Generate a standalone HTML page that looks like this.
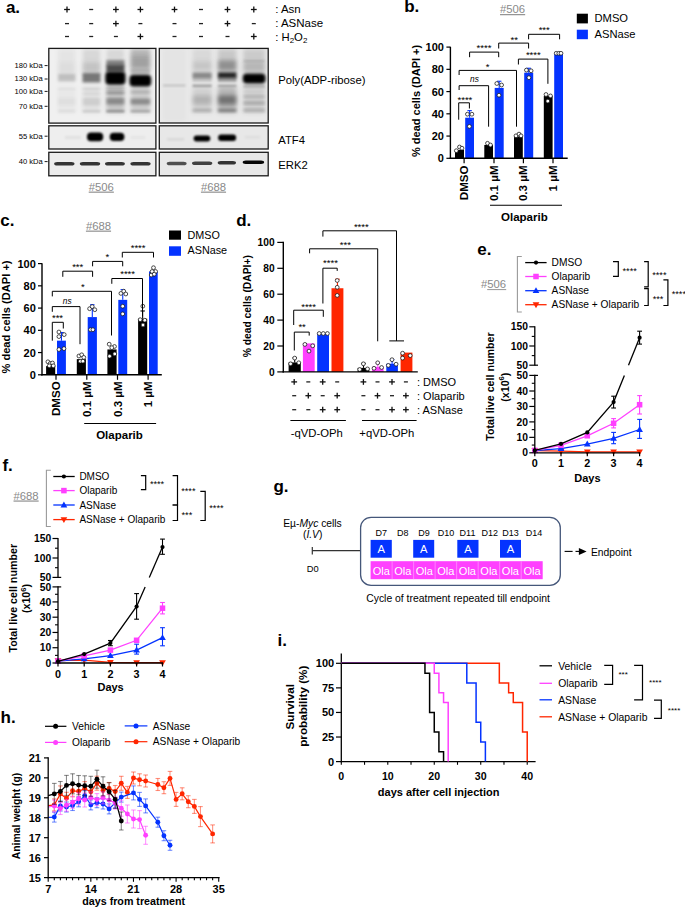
<!DOCTYPE html>
<html><head><meta charset="utf-8"><style>
html,body{margin:0;padding:0;background:#fff;width:685px;height:909px;overflow:hidden}
svg{display:block}
text{font-family:"Liberation Sans",sans-serif}
</style></head><body>
<svg width="685" height="909" viewBox="0 0 685 909">
<rect width="685" height="909" fill="#fff"/>
<text x="5.90" y="12.80" text-anchor="start" fill="#000" style="font-size:17px;font-weight:bold;">a.</text>
<line x1="64.10" y1="9.50" x2="69.90" y2="9.50" stroke="#111" stroke-width="1.3" />
<line x1="67.00" y1="6.60" x2="67.00" y2="12.40" stroke="#111" stroke-width="1.3" />
<line x1="89.20" y1="9.50" x2="93.20" y2="9.50" stroke="#222" stroke-width="1.3" />
<line x1="113.00" y1="9.50" x2="118.80" y2="9.50" stroke="#111" stroke-width="1.3" />
<line x1="115.90" y1="6.60" x2="115.90" y2="12.40" stroke="#111" stroke-width="1.3" />
<line x1="137.50" y1="9.50" x2="143.30" y2="9.50" stroke="#111" stroke-width="1.3" />
<line x1="140.40" y1="6.60" x2="140.40" y2="12.40" stroke="#111" stroke-width="1.3" />
<line x1="171.60" y1="9.50" x2="177.40" y2="9.50" stroke="#111" stroke-width="1.3" />
<line x1="174.50" y1="6.60" x2="174.50" y2="12.40" stroke="#111" stroke-width="1.3" />
<line x1="199.00" y1="9.50" x2="203.00" y2="9.50" stroke="#222" stroke-width="1.3" />
<line x1="224.60" y1="9.50" x2="230.40" y2="9.50" stroke="#111" stroke-width="1.3" />
<line x1="227.50" y1="6.60" x2="227.50" y2="12.40" stroke="#111" stroke-width="1.3" />
<line x1="250.90" y1="9.50" x2="256.70" y2="9.50" stroke="#111" stroke-width="1.3" />
<line x1="253.80" y1="6.60" x2="253.80" y2="12.40" stroke="#111" stroke-width="1.3" />
<line x1="65.00" y1="23.60" x2="69.00" y2="23.60" stroke="#222" stroke-width="1.3" />
<line x1="89.20" y1="23.60" x2="93.20" y2="23.60" stroke="#222" stroke-width="1.3" />
<line x1="113.00" y1="23.60" x2="118.80" y2="23.60" stroke="#111" stroke-width="1.3" />
<line x1="115.90" y1="20.70" x2="115.90" y2="26.50" stroke="#111" stroke-width="1.3" />
<line x1="138.40" y1="23.60" x2="142.40" y2="23.60" stroke="#222" stroke-width="1.3" />
<line x1="172.50" y1="23.60" x2="176.50" y2="23.60" stroke="#222" stroke-width="1.3" />
<line x1="199.00" y1="23.60" x2="203.00" y2="23.60" stroke="#222" stroke-width="1.3" />
<line x1="224.60" y1="23.60" x2="230.40" y2="23.60" stroke="#111" stroke-width="1.3" />
<line x1="227.50" y1="20.70" x2="227.50" y2="26.50" stroke="#111" stroke-width="1.3" />
<line x1="251.80" y1="23.60" x2="255.80" y2="23.60" stroke="#222" stroke-width="1.3" />
<line x1="65.00" y1="36.50" x2="69.00" y2="36.50" stroke="#222" stroke-width="1.3" />
<line x1="89.20" y1="36.50" x2="93.20" y2="36.50" stroke="#222" stroke-width="1.3" />
<line x1="113.90" y1="36.50" x2="117.90" y2="36.50" stroke="#222" stroke-width="1.3" />
<line x1="137.50" y1="36.50" x2="143.30" y2="36.50" stroke="#111" stroke-width="1.3" />
<line x1="140.40" y1="33.60" x2="140.40" y2="39.40" stroke="#111" stroke-width="1.3" />
<line x1="172.50" y1="36.50" x2="176.50" y2="36.50" stroke="#222" stroke-width="1.3" />
<line x1="199.00" y1="36.50" x2="203.00" y2="36.50" stroke="#222" stroke-width="1.3" />
<line x1="225.50" y1="36.50" x2="229.50" y2="36.50" stroke="#222" stroke-width="1.3" />
<line x1="250.90" y1="36.50" x2="256.70" y2="36.50" stroke="#111" stroke-width="1.3" />
<line x1="253.80" y1="33.60" x2="253.80" y2="39.40" stroke="#111" stroke-width="1.3" />
<text x="275.20" y="13.20" text-anchor="start" fill="#000" style="font-size:11.5px;font-weight:normal;">: Asn</text>
<text x="275.20" y="27.40" text-anchor="start" fill="#000" style="font-size:11.5px;font-weight:normal;">: ASNase</text>
<text x="275.20" y="40.60" text-anchor="start" fill="#000" style="font-size:11.3px;font-weight:normal;">: H<tspan font-size="8" dy="2.5">2</tspan><tspan dy="-2.5">O</tspan><tspan font-size="8" dy="2.5">2</tspan></text>
<rect x="48.80" y="48.40" width="107.10" height="74.70" fill="#f0f0f0" stroke="#1a1a1a" stroke-width="1.3"/>
<rect x="159.30" y="48.40" width="108.90" height="74.60" fill="#e9e9e9" stroke="#1a1a1a" stroke-width="1.3"/>
<rect x="48.80" y="125.80" width="107.10" height="23.20" fill="#eeeeee" stroke="#1a1a1a" stroke-width="1.3"/>
<rect x="159.30" y="125.80" width="108.90" height="23.20" fill="#e8e8e8" stroke="#1a1a1a" stroke-width="1.3"/>
<rect x="48.80" y="152.30" width="107.10" height="23.50" fill="#ececec" stroke="#1a1a1a" stroke-width="1.3"/>
<rect x="159.30" y="152.30" width="108.90" height="23.50" fill="#e8e8e8" stroke="#1a1a1a" stroke-width="1.3"/>
<text x="42.80" y="68.00" text-anchor="end" fill="#000" style="font-size:7.6px;font-weight:normal;">180 kDa</text>
<line x1="44.60" y1="65.60" x2="47.60" y2="65.60" stroke="#000" stroke-width="0.9" />
<text x="42.80" y="81.40" text-anchor="end" fill="#000" style="font-size:7.6px;font-weight:normal;">130 kDa</text>
<line x1="44.60" y1="79.00" x2="47.60" y2="79.00" stroke="#000" stroke-width="0.9" />
<text x="42.80" y="93.80" text-anchor="end" fill="#000" style="font-size:7.6px;font-weight:normal;">100 kDa</text>
<line x1="44.60" y1="91.40" x2="47.60" y2="91.40" stroke="#000" stroke-width="0.9" />
<text x="42.80" y="108.70" text-anchor="end" fill="#000" style="font-size:7.6px;font-weight:normal;">70 kDa</text>
<line x1="44.60" y1="106.30" x2="47.60" y2="106.30" stroke="#000" stroke-width="0.9" />
<text x="42.80" y="138.60" text-anchor="end" fill="#000" style="font-size:7.6px;font-weight:normal;">55 kDa</text>
<line x1="44.60" y1="136.20" x2="47.60" y2="136.20" stroke="#000" stroke-width="0.9" />
<text x="42.80" y="164.00" text-anchor="end" fill="#000" style="font-size:7.6px;font-weight:normal;">40 kDa</text>
<line x1="44.60" y1="161.60" x2="47.60" y2="161.60" stroke="#000" stroke-width="0.9" />
<text x="278.20" y="83.60" text-anchor="start" fill="#000" style="font-size:11.3px;font-weight:normal;">Poly(ADP-ribose)</text>
<text x="278.20" y="144.40" text-anchor="start" fill="#000" style="font-size:11.3px;font-weight:normal;">ATF4</text>
<text x="278.20" y="168.60" text-anchor="start" fill="#000" style="font-size:11.3px;font-weight:normal;">ERK2</text>
<text x="101.30" y="190.60" text-anchor="middle" fill="#8a8a8a" style="font-size:11.3px;font-weight:normal;text-decoration:underline;">#506</text>
<text x="213.50" y="190.60" text-anchor="middle" fill="#8a8a8a" style="font-size:11.3px;font-weight:normal;text-decoration:underline;">#688</text>
<defs><filter id="b06" x="-50%" y="-50%" width="200%" height="200%"><feGaussianBlur stdDeviation="0.6"/></filter><filter id="b1" x="-50%" y="-50%" width="200%" height="200%"><feGaussianBlur stdDeviation="1.0"/></filter><filter id="b15" x="-50%" y="-50%" width="200%" height="200%"><feGaussianBlur stdDeviation="1.5"/></filter><filter id="b2" x="-50%" y="-50%" width="200%" height="200%"><feGaussianBlur stdDeviation="2.2"/></filter><clipPath id="cp1"><rect x="49.5" y="49.1" width="105.7" height="73.3"/></clipPath><clipPath id="cp2"><rect x="160" y="49.1" width="107.5" height="73.2"/></clipPath><clipPath id="cp3"><rect x="49.5" y="126.5" width="105.7" height="21.8"/></clipPath><clipPath id="cp4"><rect x="160" y="126.5" width="107.5" height="21.8"/></clipPath><clipPath id="cp5"><rect x="49.5" y="153" width="105.7" height="22.1"/></clipPath><clipPath id="cp6"><rect x="160" y="153" width="107.5" height="22.1"/></clipPath></defs>
<g clip-path="url(#cp1)">
<rect x="58.00" y="49.00" width="17.50" height="13.00" rx="0" fill="#000" fill-opacity="0.05" filter="url(#b2)"/>
<rect x="58.00" y="62.00" width="17.50" height="12.00" rx="0" fill="#000" fill-opacity="0.08" filter="url(#b2)"/>
<rect x="58.00" y="74.00" width="17.50" height="7.50" rx="0" fill="#000" fill-opacity="0.2" filter="url(#b15)"/>
<rect x="58.00" y="86.00" width="17.50" height="27.00" rx="0" fill="#000" fill-opacity="0.035" filter="url(#b2)"/>
<rect x="58.00" y="88.00" width="17.50" height="2.00" rx="0" fill="#000" fill-opacity="0.04" filter="url(#b1)"/>
<rect x="58.00" y="98.00" width="17.50" height="7.00" rx="0" fill="#000" fill-opacity="0.04" filter="url(#b15)"/>
<rect x="58.00" y="110.00" width="17.50" height="2.50" rx="0" fill="#000" fill-opacity="0.06" filter="url(#b1)"/>
<rect x="82.50" y="49.00" width="18.00" height="13.00" rx="0" fill="#000" fill-opacity="0.1" filter="url(#b2)"/>
<rect x="82.50" y="62.00" width="18.00" height="11.00" rx="0" fill="#000" fill-opacity="0.19" filter="url(#b2)"/>
<rect x="82.50" y="73.00" width="18.00" height="9.50" rx="0" fill="#000" fill-opacity="0.5" filter="url(#b15)"/>
<rect x="82.50" y="86.00" width="18.00" height="27.00" rx="0" fill="#000" fill-opacity="0.06" filter="url(#b2)"/>
<rect x="82.50" y="87.80" width="18.00" height="2.20" rx="0" fill="#000" fill-opacity="0.08" filter="url(#b1)"/>
<rect x="82.50" y="92.50" width="18.00" height="2.30" rx="0" fill="#000" fill-opacity="0.06" filter="url(#b1)"/>
<rect x="82.50" y="98.00" width="18.00" height="7.50" rx="0" fill="#000" fill-opacity="0.09" filter="url(#b15)"/>
<rect x="82.50" y="110.00" width="18.00" height="2.50" rx="0" fill="#000" fill-opacity="0.12" filter="url(#b1)"/>
<rect x="106.30" y="49.00" width="18.20" height="11.00" rx="0" fill="#000" fill-opacity="0.1" filter="url(#b2)"/>
<rect x="106.30" y="60.00" width="18.20" height="6.00" rx="0" fill="#000" fill-opacity="0.45" filter="url(#b15)"/>
<rect x="106.30" y="65.00" width="18.20" height="7.00" rx="0" fill="#000" fill-opacity="0.68" filter="url(#b15)"/>
<rect x="105.30" y="71.50" width="20.20" height="13.30" rx="4" fill="#000" fill-opacity="1.0" filter="url(#b15)"/>
<rect x="106.30" y="86.00" width="18.20" height="27.00" rx="0" fill="#000" fill-opacity="0.18" filter="url(#b2)"/>
<rect x="106.30" y="87.00" width="18.20" height="2.50" rx="0" fill="#000" fill-opacity="0.2" filter="url(#b15)"/>
<rect x="106.30" y="91.50" width="18.20" height="2.50" rx="0" fill="#000" fill-opacity="0.32" filter="url(#b15)"/>
<rect x="106.30" y="98.00" width="18.20" height="6.50" rx="0" fill="#000" fill-opacity="0.3" filter="url(#b15)"/>
<rect x="106.30" y="110.00" width="18.20" height="2.50" rx="0" fill="#000" fill-opacity="0.3" filter="url(#b1)"/>
<rect x="130.50" y="49.00" width="19.80" height="6.00" rx="0" fill="#000" fill-opacity="0.25" filter="url(#b2)"/>
<rect x="130.50" y="55.00" width="19.80" height="14.00" rx="0" fill="#000" fill-opacity="0.33" filter="url(#b2)"/>
<rect x="130.50" y="69.00" width="19.80" height="5.00" rx="0" fill="#000" fill-opacity="0.24" filter="url(#b15)"/>
<rect x="129.50" y="74.80" width="21.70" height="11.80" rx="4" fill="#000" fill-opacity="1.0" filter="url(#b15)"/>
<rect x="130.50" y="87.00" width="19.80" height="26.00" rx="0" fill="#000" fill-opacity="0.15" filter="url(#b2)"/>
<rect x="130.50" y="90.80" width="19.80" height="2.40" rx="0" fill="#000" fill-opacity="0.18" filter="url(#b15)"/>
<rect x="130.50" y="98.70" width="19.80" height="5.80" rx="0" fill="#000" fill-opacity="0.32" filter="url(#b15)"/>
<rect x="130.50" y="110.00" width="19.80" height="2.50" rx="0" fill="#000" fill-opacity="0.22" filter="url(#b1)"/>
</g>
<g clip-path="url(#cp2)">
<rect x="163.00" y="49.00" width="22.50" height="72.00" rx="0" fill="#000" fill-opacity="0.025" filter="url(#b2)"/>
<rect x="163.00" y="84.30" width="22.50" height="2.40" rx="0" fill="#000" fill-opacity="0.13" filter="url(#b1)"/>
<rect x="192.50" y="49.00" width="19.20" height="12.00" rx="0" fill="#000" fill-opacity="0.07" filter="url(#b2)"/>
<rect x="192.50" y="61.00" width="19.20" height="10.00" rx="0" fill="#000" fill-opacity="0.15" filter="url(#b2)"/>
<rect x="192.50" y="72.50" width="19.20" height="5.50" rx="0" fill="#000" fill-opacity="0.42" filter="url(#b15)"/>
<rect x="192.50" y="77.00" width="19.20" height="5.00" rx="0" fill="#000" fill-opacity="0.15" filter="url(#b1)"/>
<rect x="192.50" y="84.50" width="19.20" height="2.50" rx="0" fill="#000" fill-opacity="0.3" filter="url(#b1)"/>
<rect x="192.50" y="87.00" width="19.20" height="26.00" rx="0" fill="#000" fill-opacity="0.1" filter="url(#b2)"/>
<rect x="192.50" y="95.50" width="19.20" height="8.80" rx="0" fill="#000" fill-opacity="0.15" filter="url(#b2)"/>
<rect x="192.50" y="109.00" width="19.20" height="3.00" rx="0" fill="#000" fill-opacity="0.2" filter="url(#b15)"/>
<rect x="217.90" y="49.00" width="18.60" height="11.00" rx="0" fill="#000" fill-opacity="0.14" filter="url(#b2)"/>
<rect x="217.90" y="60.00" width="18.60" height="11.00" rx="0" fill="#000" fill-opacity="0.38" filter="url(#b2)"/>
<rect x="217.90" y="72.30" width="18.60" height="5.70" rx="0" fill="#000" fill-opacity="0.85" filter="url(#b15)"/>
<rect x="217.90" y="77.00" width="18.60" height="5.00" rx="0" fill="#000" fill-opacity="0.3" filter="url(#b1)"/>
<rect x="217.90" y="84.50" width="18.60" height="2.50" rx="0" fill="#000" fill-opacity="0.25" filter="url(#b1)"/>
<rect x="217.90" y="87.00" width="18.60" height="26.00" rx="0" fill="#000" fill-opacity="0.22" filter="url(#b2)"/>
<rect x="217.90" y="95.50" width="18.60" height="8.80" rx="0" fill="#000" fill-opacity="0.38" filter="url(#b2)"/>
<rect x="217.90" y="109.00" width="18.60" height="3.00" rx="0" fill="#000" fill-opacity="0.35" filter="url(#b15)"/>
<rect x="243.30" y="49.00" width="21.70" height="13.00" rx="0" fill="#000" fill-opacity="0.13" filter="url(#b2)"/>
<rect x="243.30" y="59.90" width="21.70" height="2.10" rx="0" fill="#000" fill-opacity="0.12" filter="url(#b1)"/>
<rect x="243.30" y="62.00" width="21.70" height="10.00" rx="0" fill="#000" fill-opacity="0.22" filter="url(#b2)"/>
<rect x="242.80" y="73.40" width="22.70" height="10.20" rx="4" fill="#000" fill-opacity="1.0" filter="url(#b15)"/>
<rect x="243.30" y="85.00" width="21.70" height="2.50" rx="0" fill="#000" fill-opacity="0.22" filter="url(#b1)"/>
<rect x="243.30" y="87.00" width="21.70" height="26.00" rx="0" fill="#000" fill-opacity="0.12" filter="url(#b2)"/>
<rect x="243.30" y="95.50" width="21.70" height="2.50" rx="0" fill="#000" fill-opacity="0.15" filter="url(#b15)"/>
<rect x="243.30" y="101.50" width="21.70" height="3.00" rx="0" fill="#000" fill-opacity="0.2" filter="url(#b15)"/>
<rect x="243.30" y="109.00" width="21.70" height="3.00" rx="0" fill="#000" fill-opacity="0.18" filter="url(#b15)"/>
</g>
<g clip-path="url(#cp3)">
<rect x="64.90" y="136.00" width="16.00" height="3.00" rx="0" fill="#000" fill-opacity="0.06" filter="url(#b1)"/>
<rect x="130.70" y="136.00" width="14.50" height="3.00" rx="0" fill="#000" fill-opacity="0.04" filter="url(#b1)"/>
<rect x="87.00" y="132.60" width="16.20" height="8.60" rx="4" fill="#000" fill-opacity="1.0" filter="url(#b1)"/>
<rect x="109.70" y="132.80" width="14.70" height="8.20" rx="4" fill="#000" fill-opacity="1.0" filter="url(#b1)"/>
</g>
<g clip-path="url(#cp4)">
<rect x="167.00" y="138.00" width="17.20" height="2.50" rx="0" fill="#000" fill-opacity="0.07" filter="url(#b1)"/>
<rect x="244.70" y="136.00" width="15.50" height="2.50" rx="0" fill="#000" fill-opacity="0.05" filter="url(#b1)"/>
<rect x="193.60" y="135.40" width="16.70" height="6.00" rx="3" fill="#000" fill-opacity="1.0" filter="url(#b1)"/>
<rect x="218.10" y="134.40" width="18.00" height="6.50" rx="3" fill="#000" fill-opacity="1.0" filter="url(#b1)"/>
</g>
<g clip-path="url(#cp5)">
<rect x="54.10" y="162.06" width="20.40" height="3.47" rx="3" ry="1.74" fill="#000" fill-opacity="0.78" filter="url(#b06)"/>
<rect x="79.80" y="162.06" width="20.40" height="3.47" rx="3" ry="1.74" fill="#000" fill-opacity="0.78" filter="url(#b06)"/>
<rect x="105.00" y="162.06" width="19.90" height="3.47" rx="3" ry="1.74" fill="#000" fill-opacity="0.78" filter="url(#b06)"/>
<rect x="130.40" y="162.06" width="20.20" height="3.47" rx="3" ry="1.74" fill="#000" fill-opacity="0.78" filter="url(#b06)"/>
</g>
<g clip-path="url(#cp6)">
<rect x="166.70" y="161.86" width="19.90" height="3.47" rx="3" ry="1.74" fill="#000" fill-opacity="0.66" filter="url(#b06)"/>
<rect x="192.00" y="161.46" width="20.30" height="3.47" rx="3" ry="1.74" fill="#000" fill-opacity="0.72" filter="url(#b06)"/>
<rect x="217.70" y="161.06" width="18.30" height="3.47" rx="3" ry="1.74" fill="#000" fill-opacity="0.78" filter="url(#b06)"/>
<rect x="242.70" y="160.54" width="21.40" height="3.41" rx="3" ry="1.71" fill="#000" fill-opacity="0.97" filter="url(#b06)"/>
</g>
<text x="404.20" y="12.00" text-anchor="start" fill="#000" style="font-size:17px;font-weight:bold;">b.</text>
<text x="512.60" y="13.10" text-anchor="middle" fill="#8a8a8a" style="font-size:11.3px;font-weight:normal;text-decoration:underline;">#506</text>
<rect x="576.80" y="13.70" width="11.10" height="9.70" fill="#000" />
<rect x="576.80" y="29.70" width="11.10" height="9.50" fill="#0433ff" />
<text x="594.50" y="22.40" text-anchor="start" fill="#000" style="font-size:11.2px;font-weight:normal;">DMSO</text>
<text x="594.50" y="37.90" text-anchor="start" fill="#000" style="font-size:11.2px;font-weight:normal;">ASNase</text>
<rect x="455.00" y="149.96" width="9.00" height="8.34" fill="#000" />
<circle cx="456.30" cy="150.70" r="1.9" fill="#fff" stroke="#111" stroke-width="0.75"/>
<circle cx="459.50" cy="147.00" r="1.9" fill="#fff" stroke="#111" stroke-width="0.75"/>
<circle cx="462.00" cy="148.20" r="1.9" fill="#fff" stroke="#111" stroke-width="0.75"/>
<rect x="465.20" y="117.71" width="8.80" height="40.59" fill="#0433ff" />
<line x1="469.60" y1="117.71" x2="469.60" y2="110.60" stroke="#0433ff" stroke-width="1.1" />
<line x1="467.40" y1="110.60" x2="471.80" y2="110.60" stroke="#0433ff" stroke-width="1.1" />
<circle cx="467.40" cy="114.20" r="1.9" fill="#fff" stroke="#111" stroke-width="0.75"/>
<circle cx="471.90" cy="114.20" r="1.9" fill="#fff" stroke="#111" stroke-width="0.75"/>
<circle cx="469.40" cy="126.40" r="1.9" fill="#fff" stroke="#111" stroke-width="0.75"/>
<rect x="484.30" y="144.96" width="8.70" height="13.34" fill="#000" />
<circle cx="487.50" cy="143.30" r="1.9" fill="#fff" stroke="#111" stroke-width="0.75"/>
<circle cx="490.50" cy="145.00" r="1.9" fill="#fff" stroke="#111" stroke-width="0.75"/>
<rect x="494.70" y="87.91" width="9.00" height="70.39" fill="#0433ff" />
<line x1="499.20" y1="87.91" x2="499.20" y2="81.24" stroke="#0433ff" stroke-width="1.1" />
<line x1="497.00" y1="81.24" x2="501.40" y2="81.24" stroke="#0433ff" stroke-width="1.1" />
<circle cx="496.80" cy="83.50" r="1.9" fill="#fff" stroke="#111" stroke-width="0.75"/>
<circle cx="501.60" cy="85.00" r="1.9" fill="#fff" stroke="#111" stroke-width="0.75"/>
<circle cx="499.00" cy="95.20" r="1.9" fill="#fff" stroke="#111" stroke-width="0.75"/>
<rect x="514.00" y="136.62" width="8.80" height="21.68" fill="#000" />
<circle cx="516.00" cy="135.80" r="1.9" fill="#fff" stroke="#111" stroke-width="0.75"/>
<circle cx="519.00" cy="134.10" r="1.9" fill="#fff" stroke="#111" stroke-width="0.75"/>
<circle cx="521.00" cy="135.80" r="1.9" fill="#fff" stroke="#111" stroke-width="0.75"/>
<rect x="524.20" y="72.68" width="9.00" height="85.62" fill="#0433ff" />
<line x1="528.70" y1="72.68" x2="528.70" y2="68.23" stroke="#0433ff" stroke-width="1.1" />
<line x1="526.50" y1="68.23" x2="530.90" y2="68.23" stroke="#0433ff" stroke-width="1.1" />
<circle cx="526.40" cy="70.10" r="1.9" fill="#fff" stroke="#111" stroke-width="0.75"/>
<circle cx="531.10" cy="70.80" r="1.9" fill="#fff" stroke="#111" stroke-width="0.75"/>
<circle cx="528.90" cy="77.70" r="1.9" fill="#fff" stroke="#111" stroke-width="0.75"/>
<rect x="543.80" y="96.03" width="8.80" height="62.27" fill="#000" />
<circle cx="546.00" cy="94.50" r="1.9" fill="#fff" stroke="#111" stroke-width="0.75"/>
<circle cx="550.50" cy="95.90" r="1.9" fill="#fff" stroke="#111" stroke-width="0.75"/>
<circle cx="547.80" cy="101.10" r="1.9" fill="#fff" stroke="#111" stroke-width="0.75"/>
<rect x="554.20" y="53.55" width="8.80" height="104.75" fill="#0433ff" />
<circle cx="556.20" cy="53.30" r="1.9" fill="#fff" stroke="#111" stroke-width="0.75"/>
<circle cx="558.80" cy="53.30" r="1.9" fill="#fff" stroke="#111" stroke-width="0.75"/>
<circle cx="561.00" cy="53.30" r="1.9" fill="#fff" stroke="#111" stroke-width="0.75"/>
<line x1="450.40" y1="46.80" x2="450.40" y2="158.90" stroke="#000" stroke-width="1.4" />
<line x1="449.70" y1="158.30" x2="567.70" y2="158.30" stroke="#000" stroke-width="1.4" />
<line x1="446.40" y1="158.30" x2="450.40" y2="158.30" stroke="#000" stroke-width="1.2" />
<text x="443.90" y="162.30" text-anchor="end" fill="#000" style="font-size:11px;font-weight:bold;">0</text>
<line x1="446.40" y1="136.06" x2="450.40" y2="136.06" stroke="#000" stroke-width="1.2" />
<text x="443.90" y="140.06" text-anchor="end" fill="#000" style="font-size:11px;font-weight:bold;">20</text>
<line x1="446.40" y1="113.82" x2="450.40" y2="113.82" stroke="#000" stroke-width="1.2" />
<text x="443.90" y="117.82" text-anchor="end" fill="#000" style="font-size:11px;font-weight:bold;">40</text>
<line x1="446.40" y1="91.58" x2="450.40" y2="91.58" stroke="#000" stroke-width="1.2" />
<text x="443.90" y="95.58" text-anchor="end" fill="#000" style="font-size:11px;font-weight:bold;">60</text>
<line x1="446.40" y1="69.34" x2="450.40" y2="69.34" stroke="#000" stroke-width="1.2" />
<text x="443.90" y="73.34" text-anchor="end" fill="#000" style="font-size:11px;font-weight:bold;">80</text>
<line x1="446.40" y1="47.10" x2="450.40" y2="47.10" stroke="#000" stroke-width="1.2" />
<text x="443.90" y="51.10" text-anchor="end" fill="#000" style="font-size:11px;font-weight:bold;">100</text>
<line x1="464.10" y1="158.30" x2="464.10" y2="163.30" stroke="#000" stroke-width="1.2" />
<line x1="494.00" y1="158.30" x2="494.00" y2="163.30" stroke="#000" stroke-width="1.2" />
<line x1="523.40" y1="158.30" x2="523.40" y2="163.30" stroke="#000" stroke-width="1.2" />
<line x1="553.00" y1="158.30" x2="553.00" y2="163.30" stroke="#000" stroke-width="1.2" />
<text x="419.60" y="100.90" text-anchor="middle" fill="#000" style="font-size:11px;font-weight:bold;" transform="rotate(-90 419.60 100.90)">% dead cells (DAPI +)</text>
<text x="468.20" y="165.40" text-anchor="end" fill="#000" style="font-size:11.6px;font-weight:bold;" transform="rotate(-90 468.20 165.40)">DMSO</text>
<text x="498.10" y="165.40" text-anchor="end" fill="#000" style="font-size:11.6px;font-weight:bold;" transform="rotate(-90 498.10 165.40)">0.1 µM</text>
<text x="527.50" y="165.40" text-anchor="end" fill="#000" style="font-size:11.6px;font-weight:bold;" transform="rotate(-90 527.50 165.40)">0.3 µM</text>
<text x="557.10" y="165.40" text-anchor="end" fill="#000" style="font-size:11.6px;font-weight:bold;" transform="rotate(-90 557.10 165.40)">1 µM</text>
<line x1="490.00" y1="205.30" x2="562.00" y2="205.30" stroke="#000" stroke-width="1.1" />
<text x="524.40" y="220.60" text-anchor="middle" fill="#000" style="font-size:11.5px;font-weight:bold;">Olaparib</text>
<polyline points="458.70,119.70 458.70,102.80 469.40,102.80 469.40,108.50" fill="none" stroke="#000" stroke-width="1.0" stroke-linejoin="miter" />
<text x="464.90" y="102.60" text-anchor="middle" fill="#000" style="font-size:9.5px;font-weight:normal;">****</text>
<polyline points="459.10,90.00 459.10,85.70 488.60,85.70 488.60,126.70" fill="none" stroke="#000" stroke-width="1.0" stroke-linejoin="miter" />
<text x="474.50" y="82.20" text-anchor="middle" fill="#000" style="font-size:8.3px;font-weight:normal;font-style:italic;">ns</text>
<polyline points="459.10,75.00 459.10,70.40 516.50,70.40 516.50,126.70" fill="none" stroke="#000" stroke-width="1.0" stroke-linejoin="miter" />
<text x="487.60" y="69.50" text-anchor="middle" fill="#000" style="font-size:9.5px;font-weight:normal;">*</text>
<polyline points="469.60,57.20 469.60,52.10 498.70,52.10 498.70,57.20" fill="none" stroke="#000" stroke-width="1.0" stroke-linejoin="miter" />
<text x="484.00" y="51.20" text-anchor="middle" fill="#000" style="font-size:9.5px;font-weight:normal;">****</text>
<polyline points="498.70,48.50 498.70,43.10 528.60,43.10 528.60,48.50" fill="none" stroke="#000" stroke-width="1.0" stroke-linejoin="miter" />
<text x="514.30" y="42.50" text-anchor="middle" fill="#000" style="font-size:9.5px;font-weight:normal;">**</text>
<polyline points="528.60,39.30 528.60,34.30 559.60,34.30 559.60,39.30" fill="none" stroke="#000" stroke-width="1.0" stroke-linejoin="miter" />
<text x="544.20" y="33.30" text-anchor="middle" fill="#000" style="font-size:9.5px;font-weight:normal;">***</text>
<polyline points="518.40,64.50 518.40,59.10 547.90,59.10 547.90,83.80" fill="none" stroke="#000" stroke-width="1.0" stroke-linejoin="miter" />
<text x="533.30" y="57.80" text-anchor="middle" fill="#000" style="font-size:9.5px;font-weight:normal;">****</text>
<text x="0.20" y="226.00" text-anchor="start" fill="#000" style="font-size:17px;font-weight:bold;">c.</text>
<text x="98.50" y="229.60" text-anchor="middle" fill="#8a8a8a" style="font-size:11.3px;font-weight:normal;text-decoration:underline;">#688</text>
<rect x="169.00" y="230.50" width="12.00" height="9.20" fill="#000" />
<rect x="169.00" y="246.30" width="12.00" height="9.50" fill="#0433ff" />
<text x="187.50" y="238.80" text-anchor="start" fill="#000" style="font-size:10.8px;font-weight:normal;">DMSO</text>
<text x="187.50" y="254.40" text-anchor="start" fill="#000" style="font-size:10.8px;font-weight:normal;">ASNase</text>
<rect x="46.10" y="366.13" width="9.10" height="8.67" fill="#000" />
<circle cx="47.90" cy="361.80" r="1.9" fill="#fff" stroke="#111" stroke-width="0.75"/>
<circle cx="50.20" cy="363.50" r="1.9" fill="#fff" stroke="#111" stroke-width="0.75"/>
<circle cx="52.50" cy="363.00" r="1.9" fill="#fff" stroke="#111" stroke-width="0.75"/>
<circle cx="53.30" cy="365.80" r="1.9" fill="#fff" stroke="#111" stroke-width="0.75"/>
<circle cx="49.30" cy="365.80" r="1.9" fill="#fff" stroke="#111" stroke-width="0.75"/>
<rect x="57.00" y="340.66" width="8.90" height="34.14" fill="#0433ff" />
<line x1="61.45" y1="340.66" x2="61.45" y2="332.54" stroke="#0433ff" stroke-width="1.1" />
<line x1="59.25" y1="332.54" x2="63.65" y2="332.54" stroke="#0433ff" stroke-width="1.1" />
<circle cx="58.90" cy="332.00" r="1.9" fill="#fff" stroke="#111" stroke-width="0.75"/>
<circle cx="64.20" cy="334.60" r="1.9" fill="#fff" stroke="#111" stroke-width="0.75"/>
<circle cx="58.90" cy="336.60" r="1.9" fill="#fff" stroke="#111" stroke-width="0.75"/>
<circle cx="58.90" cy="349.50" r="1.9" fill="#fff" stroke="#111" stroke-width="0.75"/>
<circle cx="64.00" cy="348.60" r="1.9" fill="#fff" stroke="#111" stroke-width="0.75"/>
<rect x="76.80" y="359.12" width="9.10" height="15.68" fill="#000" />
<circle cx="78.90" cy="356.00" r="1.9" fill="#fff" stroke="#111" stroke-width="0.75"/>
<circle cx="81.70" cy="354.80" r="1.9" fill="#fff" stroke="#111" stroke-width="0.75"/>
<circle cx="83.80" cy="357.40" r="1.9" fill="#fff" stroke="#111" stroke-width="0.75"/>
<circle cx="80.30" cy="361.20" r="1.9" fill="#fff" stroke="#111" stroke-width="0.75"/>
<circle cx="82.90" cy="361.20" r="1.9" fill="#fff" stroke="#111" stroke-width="0.75"/>
<rect x="87.70" y="317.09" width="9.20" height="57.71" fill="#0433ff" />
<line x1="92.30" y1="317.09" x2="92.30" y2="304.74" stroke="#0433ff" stroke-width="1.1" />
<line x1="90.10" y1="304.74" x2="94.50" y2="304.74" stroke="#0433ff" stroke-width="1.1" />
<circle cx="89.60" cy="308.70" r="1.9" fill="#fff" stroke="#111" stroke-width="0.75"/>
<circle cx="92.20" cy="306.60" r="1.9" fill="#fff" stroke="#111" stroke-width="0.75"/>
<circle cx="94.80" cy="309.70" r="1.9" fill="#fff" stroke="#111" stroke-width="0.75"/>
<circle cx="90.50" cy="329.70" r="1.9" fill="#fff" stroke="#111" stroke-width="0.75"/>
<circle cx="92.90" cy="329.70" r="1.9" fill="#fff" stroke="#111" stroke-width="0.75"/>
<rect x="107.40" y="349.45" width="9.20" height="25.35" fill="#000" />
<circle cx="109.20" cy="344.20" r="1.9" fill="#fff" stroke="#111" stroke-width="0.75"/>
<circle cx="114.50" cy="346.50" r="1.9" fill="#fff" stroke="#111" stroke-width="0.75"/>
<circle cx="114.80" cy="353.90" r="1.9" fill="#fff" stroke="#111" stroke-width="0.75"/>
<circle cx="109.60" cy="356.20" r="1.9" fill="#fff" stroke="#111" stroke-width="0.75"/>
<circle cx="111.80" cy="347.70" r="1.9" fill="#fff" stroke="#111" stroke-width="0.75"/>
<rect x="118.30" y="299.85" width="8.90" height="74.95" fill="#0433ff" />
<line x1="122.75" y1="299.85" x2="122.75" y2="289.62" stroke="#0433ff" stroke-width="1.1" />
<line x1="120.55" y1="289.62" x2="124.95" y2="289.62" stroke="#0433ff" stroke-width="1.1" />
<circle cx="120.90" cy="293.40" r="1.9" fill="#fff" stroke="#111" stroke-width="0.75"/>
<circle cx="123.70" cy="291.20" r="1.9" fill="#fff" stroke="#111" stroke-width="0.75"/>
<circle cx="125.80" cy="294.00" r="1.9" fill="#fff" stroke="#111" stroke-width="0.75"/>
<circle cx="122.70" cy="306.20" r="1.9" fill="#fff" stroke="#111" stroke-width="0.75"/>
<circle cx="122.70" cy="313.90" r="1.9" fill="#fff" stroke="#111" stroke-width="0.75"/>
<rect x="138.10" y="318.76" width="9.10" height="56.04" fill="#000" />
<line x1="142.65" y1="318.76" x2="142.65" y2="310.97" stroke="#000" stroke-width="1.1" />
<line x1="140.45" y1="310.97" x2="144.85" y2="310.97" stroke="#000" stroke-width="1.1" />
<circle cx="142.80" cy="306.20" r="1.9" fill="#fff" stroke="#111" stroke-width="0.75"/>
<circle cx="140.20" cy="319.70" r="1.9" fill="#fff" stroke="#111" stroke-width="0.75"/>
<circle cx="144.80" cy="320.20" r="1.9" fill="#fff" stroke="#111" stroke-width="0.75"/>
<circle cx="143.00" cy="325.00" r="1.9" fill="#fff" stroke="#111" stroke-width="0.75"/>
<rect x="149.00" y="271.50" width="8.70" height="103.30" fill="#0433ff" />
<circle cx="153.50" cy="267.70" r="1.9" fill="#fff" stroke="#111" stroke-width="0.75"/>
<circle cx="151.20" cy="275.00" r="1.9" fill="#fff" stroke="#111" stroke-width="0.75"/>
<circle cx="155.60" cy="271.50" r="1.9" fill="#fff" stroke="#111" stroke-width="0.75"/>
<circle cx="152.10" cy="271.50" r="1.9" fill="#fff" stroke="#111" stroke-width="0.75"/>
<circle cx="154.20" cy="274.20" r="1.9" fill="#fff" stroke="#111" stroke-width="0.75"/>
<line x1="42.00" y1="263.20" x2="42.00" y2="375.40" stroke="#000" stroke-width="1.4" />
<line x1="41.30" y1="374.80" x2="161.80" y2="374.80" stroke="#000" stroke-width="1.4" />
<line x1="38.00" y1="374.80" x2="42.00" y2="374.80" stroke="#000" stroke-width="1.2" />
<text x="35.80" y="378.80" text-anchor="end" fill="#000" style="font-size:11px;font-weight:bold;">0</text>
<line x1="38.00" y1="352.56" x2="42.00" y2="352.56" stroke="#000" stroke-width="1.2" />
<text x="35.80" y="356.56" text-anchor="end" fill="#000" style="font-size:11px;font-weight:bold;">20</text>
<line x1="38.00" y1="330.32" x2="42.00" y2="330.32" stroke="#000" stroke-width="1.2" />
<text x="35.80" y="334.32" text-anchor="end" fill="#000" style="font-size:11px;font-weight:bold;">40</text>
<line x1="38.00" y1="308.08" x2="42.00" y2="308.08" stroke="#000" stroke-width="1.2" />
<text x="35.80" y="312.08" text-anchor="end" fill="#000" style="font-size:11px;font-weight:bold;">60</text>
<line x1="38.00" y1="285.84" x2="42.00" y2="285.84" stroke="#000" stroke-width="1.2" />
<text x="35.80" y="289.84" text-anchor="end" fill="#000" style="font-size:11px;font-weight:bold;">80</text>
<line x1="38.00" y1="263.60" x2="42.00" y2="263.60" stroke="#000" stroke-width="1.2" />
<text x="35.80" y="267.60" text-anchor="end" fill="#000" style="font-size:11px;font-weight:bold;">100</text>
<line x1="56.00" y1="374.80" x2="56.00" y2="379.80" stroke="#000" stroke-width="1.2" />
<line x1="86.80" y1="374.80" x2="86.80" y2="379.80" stroke="#000" stroke-width="1.2" />
<line x1="117.50" y1="374.80" x2="117.50" y2="379.80" stroke="#000" stroke-width="1.2" />
<line x1="148.10" y1="374.80" x2="148.10" y2="379.80" stroke="#000" stroke-width="1.2" />
<text x="9.80" y="317.00" text-anchor="middle" fill="#000" style="font-size:11.1px;font-weight:bold;" transform="rotate(-90 9.80 317.00)">% dead cells (DAPI +)</text>
<text x="60.10" y="381.30" text-anchor="end" fill="#000" style="font-size:11.6px;font-weight:bold;" transform="rotate(-90 60.10 381.30)">DMSO</text>
<text x="90.90" y="381.30" text-anchor="end" fill="#000" style="font-size:11.6px;font-weight:bold;" transform="rotate(-90 90.90 381.30)">0.1 µM</text>
<text x="121.60" y="381.30" text-anchor="end" fill="#000" style="font-size:11.6px;font-weight:bold;" transform="rotate(-90 121.60 381.30)">0.3 µM</text>
<text x="152.20" y="381.30" text-anchor="end" fill="#000" style="font-size:11.6px;font-weight:bold;" transform="rotate(-90 152.20 381.30)">1 µM</text>
<line x1="84.20" y1="423.50" x2="156.10" y2="423.50" stroke="#000" stroke-width="1.1" />
<text x="119.50" y="438.70" text-anchor="middle" fill="#000" style="font-size:11.5px;font-weight:bold;">Olaparib</text>
<polyline points="52.30,340.70 52.30,322.30 63.30,322.30 63.30,328.50" fill="none" stroke="#000" stroke-width="1.0" stroke-linejoin="miter" />
<text x="57.50" y="321.40" text-anchor="middle" fill="#000" style="font-size:9.5px;font-weight:normal;">***</text>
<polyline points="52.30,311.80 52.30,306.60 80.00,306.60 80.00,344.20" fill="none" stroke="#000" stroke-width="1.0" stroke-linejoin="miter" />
<text x="67.20" y="303.70" text-anchor="middle" fill="#000" style="font-size:8.3px;font-weight:normal;font-style:italic;">ns</text>
<polyline points="52.30,296.40 52.30,291.30 111.50,291.30 111.50,335.50" fill="none" stroke="#000" stroke-width="1.0" stroke-linejoin="miter" />
<text x="82.90" y="290.40" text-anchor="middle" fill="#000" style="font-size:9.5px;font-weight:normal;">*</text>
<polyline points="62.80,276.80 62.80,271.20 92.60,271.20 92.60,276.80" fill="none" stroke="#000" stroke-width="1.0" stroke-linejoin="miter" />
<text x="77.70" y="269.90" text-anchor="middle" fill="#000" style="font-size:9.5px;font-weight:normal;">***</text>
<polyline points="92.60,266.30 92.60,261.40 122.70,261.40 122.70,266.30" fill="none" stroke="#000" stroke-width="1.0" stroke-linejoin="miter" />
<text x="107.40" y="259.70" text-anchor="middle" fill="#000" style="font-size:9.5px;font-weight:normal;">*</text>
<polyline points="111.80,283.80 111.80,278.50 142.50,278.50 142.50,316.20" fill="none" stroke="#000" stroke-width="1.0" stroke-linejoin="miter" />
<text x="127.60" y="277.20" text-anchor="middle" fill="#000" style="font-size:9.5px;font-weight:normal;">****</text>
<polyline points="122.30,257.50 122.30,252.30 153.50,252.30 153.50,257.50" fill="none" stroke="#000" stroke-width="1.0" stroke-linejoin="miter" />
<text x="138.10" y="251.00" text-anchor="middle" fill="#000" style="font-size:9.5px;font-weight:normal;">****</text>
<text x="236.20" y="226.00" text-anchor="start" fill="#000" style="font-size:17px;font-weight:bold;">d.</text>
<rect x="288.60" y="362.45" width="12.20" height="9.45" fill="#000" />
<line x1="294.70" y1="362.45" x2="294.70" y2="357.91" stroke="#000" stroke-width="1.1" />
<line x1="292.50" y1="357.91" x2="296.90" y2="357.91" stroke="#000" stroke-width="1.1" />
<circle cx="294.70" cy="358.10" r="1.9" fill="#fff" stroke="#111" stroke-width="0.75"/>
<circle cx="290.60" cy="363.80" r="1.9" fill="#fff" stroke="#111" stroke-width="0.75"/>
<circle cx="298.80" cy="362.80" r="1.9" fill="#fff" stroke="#111" stroke-width="0.75"/>
<rect x="302.90" y="343.41" width="11.80" height="28.49" fill="#ff40ff" />
<circle cx="304.90" cy="344.40" r="1.9" fill="#fff" stroke="#111" stroke-width="0.75"/>
<circle cx="312.70" cy="345.80" r="1.9" fill="#fff" stroke="#111" stroke-width="0.75"/>
<circle cx="309.00" cy="351.10" r="1.9" fill="#fff" stroke="#111" stroke-width="0.75"/>
<rect x="317.20" y="333.44" width="11.80" height="38.46" fill="#0433ff" />
<circle cx="319.20" cy="333.50" r="1.9" fill="#fff" stroke="#111" stroke-width="0.75"/>
<circle cx="323.30" cy="333.50" r="1.9" fill="#fff" stroke="#111" stroke-width="0.75"/>
<circle cx="327.40" cy="333.50" r="1.9" fill="#fff" stroke="#111" stroke-width="0.75"/>
<rect x="331.50" y="288.24" width="11.90" height="83.66" fill="#ff2600" />
<line x1="337.45" y1="288.24" x2="337.45" y2="279.18" stroke="#ff2600" stroke-width="1.1" />
<line x1="335.25" y1="279.18" x2="339.65" y2="279.18" stroke="#ff2600" stroke-width="1.1" />
<circle cx="337.20" cy="280.50" r="1.9" fill="#fff" stroke="#111" stroke-width="0.75"/>
<circle cx="337.20" cy="287.30" r="1.9" fill="#fff" stroke="#111" stroke-width="0.75"/>
<circle cx="337.20" cy="295.40" r="1.9" fill="#fff" stroke="#111" stroke-width="0.75"/>
<rect x="357.70" y="367.89" width="11.60" height="4.01" fill="#000" />
<line x1="363.50" y1="367.89" x2="363.50" y2="363.35" stroke="#000" stroke-width="1.1" />
<line x1="361.30" y1="363.35" x2="365.70" y2="363.35" stroke="#000" stroke-width="1.1" />
<circle cx="363.40" cy="363.80" r="1.9" fill="#fff" stroke="#111" stroke-width="0.75"/>
<circle cx="359.70" cy="369.50" r="1.9" fill="#fff" stroke="#111" stroke-width="0.75"/>
<circle cx="367.50" cy="368.90" r="1.9" fill="#fff" stroke="#111" stroke-width="0.75"/>
<rect x="372.00" y="366.85" width="11.60" height="5.05" fill="#ff40ff" />
<line x1="377.80" y1="366.85" x2="377.80" y2="362.83" stroke="#ff40ff" stroke-width="1.1" />
<line x1="375.60" y1="362.83" x2="380.00" y2="362.83" stroke="#ff40ff" stroke-width="1.1" />
<circle cx="377.70" cy="362.80" r="1.9" fill="#fff" stroke="#111" stroke-width="0.75"/>
<circle cx="374.00" cy="368.30" r="1.9" fill="#fff" stroke="#111" stroke-width="0.75"/>
<circle cx="381.60" cy="367.50" r="1.9" fill="#fff" stroke="#111" stroke-width="0.75"/>
<rect x="386.30" y="363.74" width="11.60" height="8.16" fill="#0433ff" />
<line x1="392.10" y1="363.74" x2="392.10" y2="359.47" stroke="#0433ff" stroke-width="1.1" />
<line x1="389.90" y1="359.47" x2="394.30" y2="359.47" stroke="#0433ff" stroke-width="1.1" />
<circle cx="392.00" cy="359.70" r="1.9" fill="#fff" stroke="#111" stroke-width="0.75"/>
<circle cx="388.30" cy="365.40" r="1.9" fill="#fff" stroke="#111" stroke-width="0.75"/>
<circle cx="396.10" cy="364.20" r="1.9" fill="#fff" stroke="#111" stroke-width="0.75"/>
<rect x="400.60" y="352.60" width="11.80" height="19.30" fill="#ff2600" />
<circle cx="402.60" cy="353.20" r="1.9" fill="#fff" stroke="#111" stroke-width="0.75"/>
<circle cx="402.60" cy="358.10" r="1.9" fill="#fff" stroke="#111" stroke-width="0.75"/>
<circle cx="410.20" cy="355.60" r="1.9" fill="#fff" stroke="#111" stroke-width="0.75"/>
<line x1="283.30" y1="241.80" x2="283.30" y2="372.50" stroke="#000" stroke-width="1.4" />
<line x1="282.60" y1="371.90" x2="417.80" y2="371.90" stroke="#000" stroke-width="1.4" />
<line x1="277.30" y1="371.90" x2="283.30" y2="371.90" stroke="#000" stroke-width="1.2" />
<text x="274.60" y="375.90" text-anchor="end" fill="#000" style="font-size:10.2px;font-weight:bold;">0</text>
<line x1="277.30" y1="346.00" x2="283.30" y2="346.00" stroke="#000" stroke-width="1.2" />
<text x="274.60" y="350.00" text-anchor="end" fill="#000" style="font-size:10.2px;font-weight:bold;">20</text>
<line x1="277.30" y1="320.10" x2="283.30" y2="320.10" stroke="#000" stroke-width="1.2" />
<text x="274.60" y="324.10" text-anchor="end" fill="#000" style="font-size:10.2px;font-weight:bold;">40</text>
<line x1="277.30" y1="294.20" x2="283.30" y2="294.20" stroke="#000" stroke-width="1.2" />
<text x="274.60" y="298.20" text-anchor="end" fill="#000" style="font-size:10.2px;font-weight:bold;">60</text>
<line x1="277.30" y1="268.30" x2="283.30" y2="268.30" stroke="#000" stroke-width="1.2" />
<text x="274.60" y="272.30" text-anchor="end" fill="#000" style="font-size:10.2px;font-weight:bold;">80</text>
<line x1="277.30" y1="242.40" x2="283.30" y2="242.40" stroke="#000" stroke-width="1.2" />
<text x="274.60" y="246.40" text-anchor="end" fill="#000" style="font-size:10.2px;font-weight:bold;">100</text>
<text x="251.20" y="306.20" text-anchor="middle" fill="#000" style="font-size:10.3px;font-weight:bold;" transform="rotate(-90 251.20 306.20)">% dead cells (DAPI+)</text>
<polyline points="294.30,350.50 294.30,332.10 309.20,332.10 309.20,335.60" fill="none" stroke="#000" stroke-width="1.0" stroke-linejoin="miter" />
<text x="302.10" y="330.30" text-anchor="middle" fill="#000" style="font-size:9.5px;font-weight:normal;">**</text>
<polyline points="293.70,325.00 293.70,310.20 323.30,310.20 323.30,316.80" fill="none" stroke="#000" stroke-width="1.0" stroke-linejoin="miter" />
<text x="308.60" y="309.80" text-anchor="middle" fill="#000" style="font-size:9.5px;font-weight:normal;">****</text>
<polyline points="322.90,303.50 322.90,268.20 337.20,268.20 337.20,270.90" fill="none" stroke="#000" stroke-width="1.0" stroke-linejoin="miter" />
<text x="330.50" y="266.40" text-anchor="middle" fill="#000" style="font-size:9.5px;font-weight:normal;">****</text>
<polyline points="309.60,253.30 309.60,248.80 377.70,248.80 377.70,341.30" fill="none" stroke="#000" stroke-width="1.0" stroke-linejoin="miter" />
<text x="345.40" y="247.80" text-anchor="middle" fill="#000" style="font-size:9.5px;font-weight:normal;">***</text>
<polyline points="322.90,236.60 322.90,230.80 396.50,230.80 396.50,340.90" fill="none" stroke="#000" stroke-width="1.0" stroke-linejoin="miter" />
<line x1="389.30" y1="340.90" x2="404.00" y2="340.90" stroke="#000" stroke-width="1.0" />
<text x="361.30" y="230.00" text-anchor="middle" fill="#000" style="font-size:9.5px;font-weight:normal;">****</text>
<line x1="291.30" y1="381.90" x2="297.10" y2="381.90" stroke="#111" stroke-width="1.3" />
<line x1="294.20" y1="379.00" x2="294.20" y2="384.80" stroke="#111" stroke-width="1.3" />
<line x1="306.30" y1="381.90" x2="310.30" y2="381.90" stroke="#222" stroke-width="1.3" />
<line x1="319.80" y1="381.90" x2="325.60" y2="381.90" stroke="#111" stroke-width="1.3" />
<line x1="322.70" y1="379.00" x2="322.70" y2="384.80" stroke="#111" stroke-width="1.3" />
<line x1="335.20" y1="381.90" x2="339.20" y2="381.90" stroke="#222" stroke-width="1.3" />
<line x1="360.50" y1="381.90" x2="366.30" y2="381.90" stroke="#111" stroke-width="1.3" />
<line x1="363.40" y1="379.00" x2="363.40" y2="384.80" stroke="#111" stroke-width="1.3" />
<line x1="375.50" y1="381.90" x2="379.50" y2="381.90" stroke="#222" stroke-width="1.3" />
<line x1="389.10" y1="381.90" x2="394.90" y2="381.90" stroke="#111" stroke-width="1.3" />
<line x1="392.00" y1="379.00" x2="392.00" y2="384.80" stroke="#111" stroke-width="1.3" />
<line x1="403.90" y1="381.90" x2="407.90" y2="381.90" stroke="#222" stroke-width="1.3" />
<line x1="292.20" y1="395.70" x2="296.20" y2="395.70" stroke="#222" stroke-width="1.3" />
<line x1="305.40" y1="395.70" x2="311.20" y2="395.70" stroke="#111" stroke-width="1.3" />
<line x1="308.30" y1="392.80" x2="308.30" y2="398.60" stroke="#111" stroke-width="1.3" />
<line x1="320.70" y1="395.70" x2="324.70" y2="395.70" stroke="#222" stroke-width="1.3" />
<line x1="334.30" y1="395.70" x2="340.10" y2="395.70" stroke="#111" stroke-width="1.3" />
<line x1="337.20" y1="392.80" x2="337.20" y2="398.60" stroke="#111" stroke-width="1.3" />
<line x1="361.40" y1="395.70" x2="365.40" y2="395.70" stroke="#222" stroke-width="1.3" />
<line x1="374.60" y1="395.70" x2="380.40" y2="395.70" stroke="#111" stroke-width="1.3" />
<line x1="377.50" y1="392.80" x2="377.50" y2="398.60" stroke="#111" stroke-width="1.3" />
<line x1="390.00" y1="395.70" x2="394.00" y2="395.70" stroke="#222" stroke-width="1.3" />
<line x1="403.00" y1="395.70" x2="408.80" y2="395.70" stroke="#111" stroke-width="1.3" />
<line x1="405.90" y1="392.80" x2="405.90" y2="398.60" stroke="#111" stroke-width="1.3" />
<line x1="292.20" y1="409.70" x2="296.20" y2="409.70" stroke="#222" stroke-width="1.3" />
<line x1="306.30" y1="409.70" x2="310.30" y2="409.70" stroke="#222" stroke-width="1.3" />
<line x1="319.80" y1="409.70" x2="325.60" y2="409.70" stroke="#111" stroke-width="1.3" />
<line x1="322.70" y1="406.80" x2="322.70" y2="412.60" stroke="#111" stroke-width="1.3" />
<line x1="334.30" y1="409.70" x2="340.10" y2="409.70" stroke="#111" stroke-width="1.3" />
<line x1="337.20" y1="406.80" x2="337.20" y2="412.60" stroke="#111" stroke-width="1.3" />
<line x1="361.40" y1="409.70" x2="365.40" y2="409.70" stroke="#222" stroke-width="1.3" />
<line x1="375.50" y1="409.70" x2="379.50" y2="409.70" stroke="#222" stroke-width="1.3" />
<line x1="389.10" y1="409.70" x2="394.90" y2="409.70" stroke="#111" stroke-width="1.3" />
<line x1="392.00" y1="406.80" x2="392.00" y2="412.60" stroke="#111" stroke-width="1.3" />
<line x1="403.00" y1="409.70" x2="408.80" y2="409.70" stroke="#111" stroke-width="1.3" />
<line x1="405.90" y1="406.80" x2="405.90" y2="412.60" stroke="#111" stroke-width="1.3" />
<text x="417.00" y="385.90" text-anchor="start" fill="#000" style="font-size:11.0px;font-weight:normal;">: DMSO</text>
<text x="417.00" y="399.70" text-anchor="start" fill="#000" style="font-size:11.0px;font-weight:normal;">: Olaparib</text>
<text x="417.00" y="413.70" text-anchor="start" fill="#000" style="font-size:11.0px;font-weight:normal;">: ASNase</text>
<line x1="290.40" y1="420.50" x2="345.90" y2="420.50" stroke="#000" stroke-width="1.0" />
<line x1="362.00" y1="420.50" x2="416.60" y2="420.50" stroke="#000" stroke-width="1.0" />
<text x="316.70" y="436.50" text-anchor="middle" fill="#000" style="font-size:11.3px;font-weight:normal;">-qVD-OPh</text>
<text x="386.80" y="436.50" text-anchor="middle" fill="#000" style="font-size:11.3px;font-weight:normal;">+qVD-OPh</text>
<text x="477.20" y="254.60" text-anchor="start" fill="#000" style="font-size:17px;font-weight:bold;">e.</text>
<text x="481.00" y="287.90" text-anchor="start" fill="#8a8a8a" style="font-size:11.3px;font-weight:normal;">#</text>
<text x="487.20" y="287.90" text-anchor="start" fill="#8a8a8a" style="font-size:11.3px;font-weight:normal;">506</text>
<line x1="487.20" y1="289.60" x2="506.20" y2="289.60" stroke="#8a8a8a" stroke-width="0.9" />
<polyline points="521.80,256.50 517.40,256.50 517.40,312.00 521.80,312.00" fill="none" stroke="#9a9a9a" stroke-width="1.1" stroke-linejoin="miter" />
<line x1="525.20" y1="262.60" x2="546.60" y2="262.60" stroke="#000" stroke-width="1.3" />
<circle cx="536.00" cy="262.60" r="2.10" fill="#000"/>
<text x="551.60" y="266.30" text-anchor="start" fill="#000" style="font-size:10.2px;font-weight:normal;">DMSO</text>
<line x1="525.20" y1="276.50" x2="546.60" y2="276.50" stroke="#ff40ff" stroke-width="1.3" />
<rect x="533.24" y="273.74" width="5.52" height="5.52" fill="#ff40ff" />
<text x="551.60" y="280.20" text-anchor="start" fill="#000" style="font-size:10.2px;font-weight:normal;">Olaparib</text>
<line x1="525.20" y1="290.70" x2="546.60" y2="290.70" stroke="#0433ff" stroke-width="1.3" />
<polygon points="532.64,293.10 539.36,293.10 536.00,287.22" fill="#0433ff"/>
<text x="551.60" y="294.40" text-anchor="start" fill="#000" style="font-size:10.2px;font-weight:normal;">ASNase</text>
<line x1="525.20" y1="304.70" x2="546.60" y2="304.70" stroke="#ff2600" stroke-width="1.3" />
<polygon points="532.64,302.30 539.36,302.30 536.00,308.18" fill="#ff2600"/>
<text x="551.60" y="308.40" text-anchor="start" fill="#000" style="font-size:10.2px;font-weight:normal;">ASNase + Olaparib</text>
<polyline points="613.00,261.70 618.30,261.70 618.30,276.30 613.00,276.30" fill="none" stroke="#000" stroke-width="1.2" stroke-linejoin="miter" />
<text x="622.50" y="273.94" text-anchor="start" fill="#000" style="font-size:9.2px;font-weight:normal;">****</text>
<polyline points="644.10,261.70 648.20,261.70 648.20,286.90 644.10,286.90" fill="none" stroke="#000" stroke-width="1.2" stroke-linejoin="miter" />
<text x="652.20" y="278.34" text-anchor="start" fill="#000" style="font-size:9.2px;font-weight:normal;">****</text>
<polyline points="644.10,288.70 648.20,288.70 648.20,305.50 644.10,305.50" fill="none" stroke="#000" stroke-width="1.2" stroke-linejoin="miter" />
<text x="652.70" y="302.44" text-anchor="start" fill="#000" style="font-size:9.2px;font-weight:normal;">***</text>
<polyline points="663.40,279.90 667.90,279.90 667.90,305.50 663.40,305.50" fill="none" stroke="#000" stroke-width="1.2" stroke-linejoin="miter" />
<text x="671.70" y="297.24" text-anchor="start" fill="#000" style="font-size:9.2px;font-weight:normal;">****</text>
<polyline points="534.80,450.60 561.00,451.20 587.30,451.80 613.60,451.80 639.60,451.80" fill="none" stroke="#ff2600" stroke-width="1.3" stroke-linejoin="miter" />
<polygon points="531.44,448.20 538.16,448.20 534.80,454.08" fill="#ff2600"/>
<polygon points="557.64,448.80 564.36,448.80 561.00,454.68" fill="#ff2600"/>
<polygon points="583.94,449.40 590.66,449.40 587.30,455.28" fill="#ff2600"/>
<polygon points="610.24,449.40 616.96,449.40 613.60,455.28" fill="#ff2600"/>
<polygon points="636.24,449.40 642.96,449.40 639.60,455.28" fill="#ff2600"/>
<polyline points="534.80,450.60 561.00,448.60 587.30,444.10 613.60,438.40 639.60,429.50" fill="none" stroke="#0433ff" stroke-width="1.3" stroke-linejoin="miter" />
<polygon points="531.44,453.00 538.16,453.00 534.80,447.12" fill="#0433ff"/>
<polygon points="557.64,451.00 564.36,451.00 561.00,445.12" fill="#0433ff"/>
<polygon points="583.94,446.50 590.66,446.50 587.30,440.62" fill="#0433ff"/>
<line x1="613.60" y1="432.40" x2="613.60" y2="443.70" stroke="#0433ff" stroke-width="1.1" />
<line x1="611.20" y1="432.40" x2="616.00" y2="432.40" stroke="#0433ff" stroke-width="1.1" />
<line x1="611.20" y1="443.70" x2="616.00" y2="443.70" stroke="#0433ff" stroke-width="1.1" />
<polygon points="610.24,440.80 616.96,440.80 613.60,434.92" fill="#0433ff"/>
<line x1="639.60" y1="419.40" x2="639.60" y2="438.40" stroke="#0433ff" stroke-width="1.1" />
<line x1="637.20" y1="419.40" x2="642.00" y2="419.40" stroke="#0433ff" stroke-width="1.1" />
<line x1="637.20" y1="438.40" x2="642.00" y2="438.40" stroke="#0433ff" stroke-width="1.1" />
<polygon points="636.24,431.90 642.96,431.90 639.60,426.02" fill="#0433ff"/>
<polyline points="534.80,450.40 561.00,445.30 587.30,435.80 613.60,423.30 639.60,404.70" fill="none" stroke="#ff40ff" stroke-width="1.3" stroke-linejoin="miter" />
<rect x="532.04" y="447.64" width="5.52" height="5.52" fill="#ff40ff" />
<rect x="558.24" y="442.54" width="5.52" height="5.52" fill="#ff40ff" />
<rect x="584.54" y="433.04" width="5.52" height="5.52" fill="#ff40ff" />
<line x1="613.60" y1="418.60" x2="613.60" y2="427.90" stroke="#ff40ff" stroke-width="1.1" />
<line x1="611.20" y1="418.60" x2="616.00" y2="418.60" stroke="#ff40ff" stroke-width="1.1" />
<line x1="611.20" y1="427.90" x2="616.00" y2="427.90" stroke="#ff40ff" stroke-width="1.1" />
<rect x="610.84" y="420.54" width="5.52" height="5.52" fill="#ff40ff" />
<line x1="639.60" y1="395.60" x2="639.60" y2="414.00" stroke="#ff40ff" stroke-width="1.1" />
<line x1="637.20" y1="395.60" x2="642.00" y2="395.60" stroke="#ff40ff" stroke-width="1.1" />
<line x1="637.20" y1="414.00" x2="642.00" y2="414.00" stroke="#ff40ff" stroke-width="1.1" />
<rect x="636.84" y="401.94" width="5.52" height="5.52" fill="#ff40ff" />
<polyline points="534.80,450.40 561.00,443.90 587.30,432.40 613.60,402.10 624.38,375.40" fill="none" stroke="#000" stroke-width="1.3" stroke-linejoin="miter" />
<polyline points="628.50,365.20 639.60,337.70" fill="none" stroke="#000" stroke-width="1.3" stroke-linejoin="miter" />
<circle cx="534.80" cy="450.40" r="2.10" fill="#000"/>
<circle cx="561.00" cy="443.90" r="2.10" fill="#000"/>
<circle cx="587.30" cy="432.40" r="2.10" fill="#000"/>
<line x1="613.60" y1="396.20" x2="613.60" y2="408.00" stroke="#000" stroke-width="1.1" />
<line x1="611.20" y1="396.20" x2="616.00" y2="396.20" stroke="#000" stroke-width="1.1" />
<line x1="611.20" y1="408.00" x2="616.00" y2="408.00" stroke="#000" stroke-width="1.1" />
<circle cx="613.60" cy="402.10" r="2.10" fill="#000"/>
<line x1="639.60" y1="331.20" x2="639.60" y2="344.10" stroke="#000" stroke-width="1.1" />
<line x1="637.20" y1="331.20" x2="642.00" y2="331.20" stroke="#000" stroke-width="1.1" />
<line x1="637.20" y1="344.10" x2="642.00" y2="344.10" stroke="#000" stroke-width="1.1" />
<circle cx="639.60" cy="337.70" r="2.10" fill="#000"/>
<line x1="534.80" y1="326.20" x2="534.80" y2="365.80" stroke="#000" stroke-width="1.3" />
<line x1="534.80" y1="374.80" x2="534.80" y2="453.40" stroke="#000" stroke-width="1.3" />
<line x1="529.30" y1="326.80" x2="534.80" y2="326.80" stroke="#000" stroke-width="1.2" />
<line x1="531.77" y1="336.40" x2="534.80" y2="336.40" stroke="#000" stroke-width="1.1" />
<line x1="529.30" y1="346.00" x2="534.80" y2="346.00" stroke="#000" stroke-width="1.2" />
<line x1="531.77" y1="355.60" x2="534.80" y2="355.60" stroke="#000" stroke-width="1.1" />
<line x1="529.30" y1="365.20" x2="534.80" y2="365.20" stroke="#000" stroke-width="1.2" />
<line x1="529.30" y1="375.40" x2="534.80" y2="375.40" stroke="#000" stroke-width="1.2" />
<line x1="531.77" y1="383.28" x2="534.80" y2="383.28" stroke="#000" stroke-width="1.1" />
<line x1="529.30" y1="391.00" x2="534.80" y2="391.00" stroke="#000" stroke-width="1.2" />
<line x1="531.77" y1="398.73" x2="534.80" y2="398.73" stroke="#000" stroke-width="1.1" />
<line x1="529.30" y1="406.45" x2="534.80" y2="406.45" stroke="#000" stroke-width="1.2" />
<line x1="531.77" y1="414.18" x2="534.80" y2="414.18" stroke="#000" stroke-width="1.1" />
<line x1="529.30" y1="421.90" x2="534.80" y2="421.90" stroke="#000" stroke-width="1.2" />
<line x1="531.77" y1="429.62" x2="534.80" y2="429.62" stroke="#000" stroke-width="1.1" />
<line x1="529.30" y1="437.35" x2="534.80" y2="437.35" stroke="#000" stroke-width="1.2" />
<line x1="531.77" y1="445.07" x2="534.80" y2="445.07" stroke="#000" stroke-width="1.1" />
<line x1="529.30" y1="452.80" x2="534.80" y2="452.80" stroke="#000" stroke-width="1.2" />
<line x1="534.80" y1="365.20" x2="538.00" y2="365.20" stroke="#000" stroke-width="1.2" />
<line x1="534.80" y1="375.40" x2="538.00" y2="375.40" stroke="#000" stroke-width="1.2" />
<line x1="534.80" y1="326.80" x2="534.80" y2="326.80" stroke="#000" stroke-width="1.2" />
<text x="528.00" y="330.40" text-anchor="end" fill="#000" style="font-size:10.3px;font-weight:bold;">150</text>
<text x="528.00" y="349.60" text-anchor="end" fill="#000" style="font-size:10.3px;font-weight:bold;">100</text>
<text x="528.00" y="368.80" text-anchor="end" fill="#000" style="font-size:10.3px;font-weight:bold;">50</text>
<text x="528.00" y="379.00" text-anchor="end" fill="#000" style="font-size:10.3px;font-weight:bold;">50</text>
<text x="528.00" y="394.60" text-anchor="end" fill="#000" style="font-size:10.3px;font-weight:bold;">40</text>
<text x="528.00" y="410.05" text-anchor="end" fill="#000" style="font-size:10.3px;font-weight:bold;">30</text>
<text x="528.00" y="425.50" text-anchor="end" fill="#000" style="font-size:10.3px;font-weight:bold;">20</text>
<text x="528.00" y="440.95" text-anchor="end" fill="#000" style="font-size:10.3px;font-weight:bold;">10</text>
<text x="528.00" y="456.40" text-anchor="end" fill="#000" style="font-size:10.3px;font-weight:bold;">0</text>
<line x1="534.20" y1="452.80" x2="640.20" y2="452.80" stroke="#000" stroke-width="1.3" />
<line x1="534.80" y1="452.80" x2="534.80" y2="456.30" stroke="#000" stroke-width="1.2" />
<text x="534.80" y="467.30" text-anchor="middle" fill="#000" style="font-size:10.8px;font-weight:bold;">0</text>
<line x1="561.00" y1="452.80" x2="561.00" y2="456.30" stroke="#000" stroke-width="1.2" />
<text x="561.00" y="467.30" text-anchor="middle" fill="#000" style="font-size:10.8px;font-weight:bold;">1</text>
<line x1="587.30" y1="452.80" x2="587.30" y2="456.30" stroke="#000" stroke-width="1.2" />
<text x="587.30" y="467.30" text-anchor="middle" fill="#000" style="font-size:10.8px;font-weight:bold;">2</text>
<line x1="613.60" y1="452.80" x2="613.60" y2="456.30" stroke="#000" stroke-width="1.2" />
<text x="613.60" y="467.30" text-anchor="middle" fill="#000" style="font-size:10.8px;font-weight:bold;">3</text>
<line x1="639.60" y1="452.80" x2="639.60" y2="456.30" stroke="#000" stroke-width="1.2" />
<text x="639.60" y="467.30" text-anchor="middle" fill="#000" style="font-size:10.8px;font-weight:bold;">4</text>
<text x="493.80" y="386.60" text-anchor="middle" fill="#000" style="font-size:10.7px;font-weight:bold;" transform="rotate(-90 493.80 386.60)">Total live cell number</text>
<text x="508.60" y="387.20" text-anchor="middle" fill="#000" style="font-size:10.7px;font-weight:bold;" transform="rotate(-90 508.60 387.20)">(x10<tspan font-size="7.6" dy="-4.2">6</tspan><tspan dy="4.2">)</tspan></text>
<text x="587.40" y="481.90" text-anchor="middle" fill="#000" style="font-size:11.0px;font-weight:bold;">Days</text>
<text x="2.40" y="471.40" text-anchor="start" fill="#000" style="font-size:17px;font-weight:bold;">f.</text>
<text x="26.10" y="499.50" text-anchor="middle" fill="#8a8a8a" style="font-size:11.3px;font-weight:normal;text-decoration:underline;">#688</text>
<polyline points="50.80,470.30 46.40,470.30 46.40,526.50 50.80,526.50" fill="none" stroke="#9a9a9a" stroke-width="1.1" stroke-linejoin="miter" />
<line x1="53.30" y1="476.50" x2="74.70" y2="476.50" stroke="#000" stroke-width="1.3" />
<circle cx="63.90" cy="476.50" r="2.10" fill="#000"/>
<text x="79.40" y="480.20" text-anchor="start" fill="#000" style="font-size:10.0px;font-weight:normal;">DMSO</text>
<line x1="53.30" y1="490.60" x2="74.70" y2="490.60" stroke="#ff40ff" stroke-width="1.3" />
<rect x="61.14" y="487.84" width="5.52" height="5.52" fill="#ff40ff" />
<text x="79.40" y="494.30" text-anchor="start" fill="#000" style="font-size:10.0px;font-weight:normal;">Olaparib</text>
<line x1="53.30" y1="505.00" x2="74.70" y2="505.00" stroke="#0433ff" stroke-width="1.3" />
<polygon points="60.54,507.40 67.26,507.40 63.90,501.52" fill="#0433ff"/>
<text x="79.40" y="508.70" text-anchor="start" fill="#000" style="font-size:10.0px;font-weight:normal;">ASNase</text>
<line x1="53.30" y1="519.60" x2="74.70" y2="519.60" stroke="#ff2600" stroke-width="1.3" />
<polygon points="60.54,517.20 67.26,517.20 63.90,523.08" fill="#ff2600"/>
<text x="79.40" y="523.30" text-anchor="start" fill="#000" style="font-size:10.0px;font-weight:normal;">ASNase + Olaparib</text>
<polyline points="140.90,475.60 145.70,475.60 145.70,489.70 140.90,489.70" fill="none" stroke="#000" stroke-width="1.2" stroke-linejoin="miter" />
<text x="149.90" y="487.24" text-anchor="start" fill="#000" style="font-size:9.2px;font-weight:normal;">****</text>
<polyline points="172.60,475.60 177.50,475.60 177.50,505.00 172.60,505.00" fill="none" stroke="#000" stroke-width="1.2" stroke-linejoin="miter" />
<text x="181.20" y="493.64" text-anchor="start" fill="#000" style="font-size:9.2px;font-weight:normal;">****</text>
<polyline points="172.60,505.00 177.50,505.00 177.50,520.50 172.60,520.50" fill="none" stroke="#000" stroke-width="1.2" stroke-linejoin="miter" />
<text x="181.50" y="517.54" text-anchor="start" fill="#000" style="font-size:9.2px;font-weight:normal;">***</text>
<polyline points="200.30,491.30 205.20,491.30 205.20,520.50 200.30,520.50" fill="none" stroke="#000" stroke-width="1.2" stroke-linejoin="miter" />
<text x="209.30" y="510.54" text-anchor="start" fill="#000" style="font-size:9.2px;font-weight:normal;">****</text>
<polyline points="58.00,660.70 84.20,660.20 110.40,662.40 136.60,662.60 162.50,662.60" fill="none" stroke="#ff2600" stroke-width="1.3" stroke-linejoin="miter" />
<polygon points="54.64,658.30 61.36,658.30 58.00,664.18" fill="#ff2600"/>
<polygon points="80.84,657.80 87.56,657.80 84.20,663.68" fill="#ff2600"/>
<polygon points="107.04,660.00 113.76,660.00 110.40,665.88" fill="#ff2600"/>
<polygon points="133.24,660.20 139.96,660.20 136.60,666.08" fill="#ff2600"/>
<polygon points="159.14,660.20 165.86,660.20 162.50,666.08" fill="#ff2600"/>
<polyline points="58.00,661.20 84.20,658.90 110.40,655.60 136.60,650.10 162.50,637.70" fill="none" stroke="#0433ff" stroke-width="1.3" stroke-linejoin="miter" />
<polygon points="54.64,663.60 61.36,663.60 58.00,657.72" fill="#0433ff"/>
<polygon points="80.84,661.30 87.56,661.30 84.20,655.42" fill="#0433ff"/>
<polygon points="107.04,658.00 113.76,658.00 110.40,652.12" fill="#0433ff"/>
<line x1="136.60" y1="644.20" x2="136.60" y2="654.10" stroke="#0433ff" stroke-width="1.1" />
<line x1="134.20" y1="644.20" x2="139.00" y2="644.20" stroke="#0433ff" stroke-width="1.1" />
<line x1="134.20" y1="654.10" x2="139.00" y2="654.10" stroke="#0433ff" stroke-width="1.1" />
<polygon points="133.24,652.50 139.96,652.50 136.60,646.62" fill="#0433ff"/>
<line x1="162.50" y1="627.70" x2="162.50" y2="645.80" stroke="#0433ff" stroke-width="1.1" />
<line x1="160.10" y1="627.70" x2="164.90" y2="627.70" stroke="#0433ff" stroke-width="1.1" />
<line x1="160.10" y1="645.80" x2="164.90" y2="645.80" stroke="#0433ff" stroke-width="1.1" />
<polygon points="159.14,640.10 165.86,640.10 162.50,634.22" fill="#0433ff"/>
<polyline points="58.00,661.00 84.20,655.80 110.40,650.10 136.60,640.30 162.50,608.20" fill="none" stroke="#ff40ff" stroke-width="1.3" stroke-linejoin="miter" />
<rect x="55.24" y="658.24" width="5.52" height="5.52" fill="#ff40ff" />
<rect x="81.44" y="653.04" width="5.52" height="5.52" fill="#ff40ff" />
<rect x="107.64" y="647.34" width="5.52" height="5.52" fill="#ff40ff" />
<rect x="133.84" y="637.54" width="5.52" height="5.52" fill="#ff40ff" />
<line x1="162.50" y1="602.50" x2="162.50" y2="613.90" stroke="#ff40ff" stroke-width="1.1" />
<line x1="160.10" y1="602.50" x2="164.90" y2="602.50" stroke="#ff40ff" stroke-width="1.1" />
<line x1="160.10" y1="613.90" x2="164.90" y2="613.90" stroke="#ff40ff" stroke-width="1.1" />
<rect x="159.74" y="605.44" width="5.52" height="5.52" fill="#ff40ff" />
<polyline points="58.00,661.30 84.20,654.10 110.40,643.10 136.60,606.50 145.15,586.90" fill="none" stroke="#000" stroke-width="1.3" stroke-linejoin="miter" />
<polyline points="149.29,577.40 162.50,547.10" fill="none" stroke="#000" stroke-width="1.3" stroke-linejoin="miter" />
<circle cx="58.00" cy="661.30" r="2.10" fill="#000"/>
<circle cx="84.20" cy="654.10" r="2.10" fill="#000"/>
<line x1="110.40" y1="640.50" x2="110.40" y2="645.70" stroke="#000" stroke-width="1.1" />
<line x1="108.00" y1="640.50" x2="112.80" y2="640.50" stroke="#000" stroke-width="1.1" />
<line x1="108.00" y1="645.70" x2="112.80" y2="645.70" stroke="#000" stroke-width="1.1" />
<circle cx="110.40" cy="643.10" r="2.10" fill="#000"/>
<line x1="136.60" y1="593.60" x2="136.60" y2="619.20" stroke="#000" stroke-width="1.1" />
<line x1="134.20" y1="593.60" x2="139.00" y2="593.60" stroke="#000" stroke-width="1.1" />
<line x1="134.20" y1="619.20" x2="139.00" y2="619.20" stroke="#000" stroke-width="1.1" />
<circle cx="136.60" cy="606.50" r="2.10" fill="#000"/>
<line x1="162.50" y1="539.10" x2="162.50" y2="554.30" stroke="#000" stroke-width="1.1" />
<line x1="160.10" y1="539.10" x2="164.90" y2="539.10" stroke="#000" stroke-width="1.1" />
<line x1="160.10" y1="554.30" x2="164.90" y2="554.30" stroke="#000" stroke-width="1.1" />
<circle cx="162.50" cy="547.10" r="2.10" fill="#000"/>
<line x1="58.00" y1="537.90" x2="58.00" y2="578.00" stroke="#000" stroke-width="1.3" />
<line x1="58.00" y1="586.30" x2="58.00" y2="663.60" stroke="#000" stroke-width="1.3" />
<line x1="52.50" y1="538.50" x2="58.00" y2="538.50" stroke="#000" stroke-width="1.2" />
<line x1="54.98" y1="548.20" x2="58.00" y2="548.20" stroke="#000" stroke-width="1.1" />
<line x1="52.50" y1="558.00" x2="58.00" y2="558.00" stroke="#000" stroke-width="1.2" />
<line x1="54.98" y1="567.70" x2="58.00" y2="567.70" stroke="#000" stroke-width="1.1" />
<line x1="52.50" y1="577.40" x2="58.00" y2="577.40" stroke="#000" stroke-width="1.2" />
<line x1="52.50" y1="586.90" x2="58.00" y2="586.90" stroke="#000" stroke-width="1.2" />
<line x1="54.98" y1="594.28" x2="58.00" y2="594.28" stroke="#000" stroke-width="1.1" />
<line x1="52.50" y1="601.92" x2="58.00" y2="601.92" stroke="#000" stroke-width="1.2" />
<line x1="54.98" y1="609.55" x2="58.00" y2="609.55" stroke="#000" stroke-width="1.1" />
<line x1="52.50" y1="617.19" x2="58.00" y2="617.19" stroke="#000" stroke-width="1.2" />
<line x1="54.98" y1="624.83" x2="58.00" y2="624.83" stroke="#000" stroke-width="1.1" />
<line x1="52.50" y1="632.46" x2="58.00" y2="632.46" stroke="#000" stroke-width="1.2" />
<line x1="54.98" y1="640.10" x2="58.00" y2="640.10" stroke="#000" stroke-width="1.1" />
<line x1="52.50" y1="647.73" x2="58.00" y2="647.73" stroke="#000" stroke-width="1.2" />
<line x1="54.98" y1="655.37" x2="58.00" y2="655.37" stroke="#000" stroke-width="1.1" />
<line x1="52.50" y1="663.00" x2="58.00" y2="663.00" stroke="#000" stroke-width="1.2" />
<line x1="58.00" y1="577.40" x2="61.20" y2="577.40" stroke="#000" stroke-width="1.2" />
<line x1="58.00" y1="586.90" x2="61.20" y2="586.90" stroke="#000" stroke-width="1.2" />
<line x1="58.00" y1="538.50" x2="58.00" y2="538.50" stroke="#000" stroke-width="1.2" />
<text x="51.20" y="542.10" text-anchor="end" fill="#000" style="font-size:10.3px;font-weight:bold;">150</text>
<text x="51.20" y="561.60" text-anchor="end" fill="#000" style="font-size:10.3px;font-weight:bold;">100</text>
<text x="51.20" y="581.00" text-anchor="end" fill="#000" style="font-size:10.3px;font-weight:bold;">50</text>
<text x="51.20" y="590.50" text-anchor="end" fill="#000" style="font-size:10.3px;font-weight:bold;">50</text>
<text x="51.20" y="605.52" text-anchor="end" fill="#000" style="font-size:10.3px;font-weight:bold;">40</text>
<text x="51.20" y="620.79" text-anchor="end" fill="#000" style="font-size:10.3px;font-weight:bold;">30</text>
<text x="51.20" y="636.06" text-anchor="end" fill="#000" style="font-size:10.3px;font-weight:bold;">20</text>
<text x="51.20" y="651.33" text-anchor="end" fill="#000" style="font-size:10.3px;font-weight:bold;">10</text>
<text x="51.20" y="666.60" text-anchor="end" fill="#000" style="font-size:10.3px;font-weight:bold;">0</text>
<line x1="57.40" y1="663.00" x2="163.10" y2="663.00" stroke="#000" stroke-width="1.3" />
<line x1="58.00" y1="663.00" x2="58.00" y2="666.50" stroke="#000" stroke-width="1.2" />
<text x="58.00" y="677.70" text-anchor="middle" fill="#000" style="font-size:10.8px;font-weight:bold;">0</text>
<line x1="84.20" y1="663.00" x2="84.20" y2="666.50" stroke="#000" stroke-width="1.2" />
<text x="84.20" y="677.70" text-anchor="middle" fill="#000" style="font-size:10.8px;font-weight:bold;">1</text>
<line x1="110.40" y1="663.00" x2="110.40" y2="666.50" stroke="#000" stroke-width="1.2" />
<text x="110.40" y="677.70" text-anchor="middle" fill="#000" style="font-size:10.8px;font-weight:bold;">2</text>
<line x1="136.60" y1="663.00" x2="136.60" y2="666.50" stroke="#000" stroke-width="1.2" />
<text x="136.60" y="677.70" text-anchor="middle" fill="#000" style="font-size:10.8px;font-weight:bold;">3</text>
<line x1="162.50" y1="663.00" x2="162.50" y2="666.50" stroke="#000" stroke-width="1.2" />
<text x="162.50" y="677.70" text-anchor="middle" fill="#000" style="font-size:10.8px;font-weight:bold;">4</text>
<text x="17.20" y="598.20" text-anchor="middle" fill="#000" style="font-size:10.7px;font-weight:bold;" transform="rotate(-90 17.20 598.20)">Total live cell number</text>
<text x="30.20" y="598.50" text-anchor="middle" fill="#000" style="font-size:10.7px;font-weight:bold;" transform="rotate(-90 30.20 598.50)">(x10<tspan font-size="7.6" dy="-4.2">6</tspan><tspan dy="4.2">)</tspan></text>
<text x="110.60" y="690.90" text-anchor="middle" fill="#000" style="font-size:11.0px;font-weight:bold;">Days</text>
<text x="273.40" y="492.30" text-anchor="start" fill="#000" style="font-size:17px;font-weight:bold;">g.</text>
<text x="283.20" y="527.00" text-anchor="start" fill="#000" style="font-size:10.3px;font-weight:normal;">Eµ-<tspan font-style="italic">Myc</tspan> cells</text>
<text x="312.70" y="538.30" text-anchor="middle" fill="#000" style="font-size:10.3px;font-weight:normal;">(<tspan font-style="italic">I.V</tspan>)</text>
<line x1="312.30" y1="547.10" x2="312.30" y2="554.50" stroke="#333" stroke-width="1.2" />
<line x1="312.30" y1="550.70" x2="360.50" y2="550.70" stroke="#333" stroke-width="1.2" />
<text x="312.80" y="571.50" text-anchor="middle" fill="#000" style="font-size:9.3px;font-weight:normal;">D0</text>
<rect x="360.6" y="517.3" width="199.7" height="68.1" rx="10.5" fill="none" stroke="#45577a" stroke-width="1.3"/>
<text x="381.30" y="536.40" text-anchor="middle" fill="#000" style="font-size:9.0px;font-weight:normal;">D7</text>
<text x="402.70" y="536.40" text-anchor="middle" fill="#000" style="font-size:9.0px;font-weight:normal;">D8</text>
<text x="424.00" y="536.40" text-anchor="middle" fill="#000" style="font-size:9.0px;font-weight:normal;">D9</text>
<text x="445.90" y="536.40" text-anchor="middle" fill="#000" style="font-size:9.0px;font-weight:normal;">D10</text>
<text x="467.50" y="536.40" text-anchor="middle" fill="#000" style="font-size:9.0px;font-weight:normal;">D11</text>
<text x="489.70" y="536.40" text-anchor="middle" fill="#000" style="font-size:9.0px;font-weight:normal;">D12</text>
<text x="510.50" y="536.40" text-anchor="middle" fill="#000" style="font-size:9.0px;font-weight:normal;">D13</text>
<text x="533.90" y="536.40" text-anchor="middle" fill="#000" style="font-size:9.0px;font-weight:normal;">D14</text>
<rect x="370.60" y="539.90" width="21.20" height="17.80" fill="#0433ff" />
<text x="381.20" y="553.10" text-anchor="middle" fill="#fff" style="font-size:11.2px;font-weight:normal;">A</text>
<rect x="413.20" y="539.90" width="21.00" height="17.80" fill="#0433ff" />
<text x="423.70" y="553.10" text-anchor="middle" fill="#fff" style="font-size:11.2px;font-weight:normal;">A</text>
<rect x="457.30" y="539.90" width="21.20" height="17.80" fill="#0433ff" />
<text x="467.90" y="553.10" text-anchor="middle" fill="#fff" style="font-size:11.2px;font-weight:normal;">A</text>
<rect x="500.00" y="539.90" width="21.00" height="17.80" fill="#0433ff" />
<text x="510.50" y="553.10" text-anchor="middle" fill="#fff" style="font-size:11.2px;font-weight:normal;">A</text>
<rect x="370.60" y="561.20" width="172.10" height="18.00" fill="#ff40ff" />
<text x="381.36" y="574.80" text-anchor="middle" fill="#fff" style="font-size:11.0px;font-weight:normal;">Ola</text>
<line x1="392.11" y1="561.20" x2="392.11" y2="579.20" stroke="#ff9dff" stroke-width="0.7" />
<text x="402.87" y="574.80" text-anchor="middle" fill="#fff" style="font-size:11.0px;font-weight:normal;">Ola</text>
<line x1="413.62" y1="561.20" x2="413.62" y2="579.20" stroke="#ff9dff" stroke-width="0.7" />
<text x="424.38" y="574.80" text-anchor="middle" fill="#fff" style="font-size:11.0px;font-weight:normal;">Ola</text>
<line x1="435.14" y1="561.20" x2="435.14" y2="579.20" stroke="#ff9dff" stroke-width="0.7" />
<text x="445.89" y="574.80" text-anchor="middle" fill="#fff" style="font-size:11.0px;font-weight:normal;">Ola</text>
<line x1="456.65" y1="561.20" x2="456.65" y2="579.20" stroke="#ff9dff" stroke-width="0.7" />
<text x="467.41" y="574.80" text-anchor="middle" fill="#fff" style="font-size:11.0px;font-weight:normal;">Ola</text>
<line x1="478.16" y1="561.20" x2="478.16" y2="579.20" stroke="#ff9dff" stroke-width="0.7" />
<text x="488.92" y="574.80" text-anchor="middle" fill="#fff" style="font-size:11.0px;font-weight:normal;">Ola</text>
<line x1="499.68" y1="561.20" x2="499.68" y2="579.20" stroke="#ff9dff" stroke-width="0.7" />
<text x="510.43" y="574.80" text-anchor="middle" fill="#fff" style="font-size:11.0px;font-weight:normal;">Ola</text>
<line x1="521.19" y1="561.20" x2="521.19" y2="579.20" stroke="#ff9dff" stroke-width="0.7" />
<text x="531.94" y="574.80" text-anchor="middle" fill="#fff" style="font-size:11.0px;font-weight:normal;">Ola</text>
<line x1="564.60" y1="551.40" x2="572.60" y2="551.40" stroke="#000" stroke-width="1.1" />
<line x1="575.50" y1="551.40" x2="580.00" y2="551.40" stroke="#000" stroke-width="1.1" />
<polygon points="578.9,547.9 586.6,551.4 578.9,554.9" fill="#000"/>
<text x="591.00" y="555.80" text-anchor="start" fill="#000" style="font-size:10.3px;font-weight:normal;">Endpoint</text>
<text x="366.20" y="601.90" text-anchor="start" fill="#000" style="font-size:10.4px;font-weight:normal;">Cycle of treatment repeated till endpoint</text>
<text x="0.60" y="723.40" text-anchor="start" fill="#000" style="font-size:17px;font-weight:bold;">h.</text>
<line x1="45.00" y1="726.30" x2="66.40" y2="726.30" stroke="#000" stroke-width="1.2" />
<circle cx="55.60" cy="726.30" r="2.5" fill="#000"/>
<text x="72.00" y="729.90" text-anchor="start" fill="#000" style="font-size:10.2px;font-weight:normal;">Vehicle</text>
<line x1="45.00" y1="742.40" x2="66.40" y2="742.40" stroke="#ff40ff" stroke-width="1.2" />
<circle cx="55.60" cy="742.40" r="2.5" fill="#ff40ff"/>
<text x="72.00" y="746.00" text-anchor="start" fill="#000" style="font-size:10.2px;font-weight:normal;">Olaparib</text>
<line x1="124.70" y1="725.90" x2="147.40" y2="725.90" stroke="#0433ff" stroke-width="1.2" />
<circle cx="136.00" cy="725.90" r="2.5" fill="#0433ff"/>
<text x="152.80" y="729.50" text-anchor="start" fill="#000" style="font-size:10.2px;font-weight:normal;">ASNase</text>
<line x1="124.70" y1="741.70" x2="147.40" y2="741.70" stroke="#ff2600" stroke-width="1.2" />
<circle cx="136.00" cy="741.70" r="2.5" fill="#ff2600"/>
<text x="152.80" y="745.30" text-anchor="start" fill="#000" style="font-size:10.2px;font-weight:normal;">ASNase + Olaparib</text>
<line x1="44.00" y1="877.60" x2="48.20" y2="877.60" stroke="#000" stroke-width="1.2" />
<text x="41.00" y="881.60" text-anchor="end" fill="#000" style="font-size:11px;font-weight:bold;">15</text>
<line x1="44.00" y1="857.65" x2="48.20" y2="857.65" stroke="#000" stroke-width="1.2" />
<text x="41.00" y="861.65" text-anchor="end" fill="#000" style="font-size:11px;font-weight:bold;">16</text>
<line x1="44.00" y1="837.70" x2="48.20" y2="837.70" stroke="#000" stroke-width="1.2" />
<text x="41.00" y="841.70" text-anchor="end" fill="#000" style="font-size:11px;font-weight:bold;">17</text>
<line x1="44.00" y1="817.75" x2="48.20" y2="817.75" stroke="#000" stroke-width="1.2" />
<text x="41.00" y="821.75" text-anchor="end" fill="#000" style="font-size:11px;font-weight:bold;">18</text>
<line x1="44.00" y1="797.80" x2="48.20" y2="797.80" stroke="#000" stroke-width="1.2" />
<text x="41.00" y="801.80" text-anchor="end" fill="#000" style="font-size:11px;font-weight:bold;">19</text>
<line x1="44.00" y1="777.85" x2="48.20" y2="777.85" stroke="#000" stroke-width="1.2" />
<text x="41.00" y="781.85" text-anchor="end" fill="#000" style="font-size:11px;font-weight:bold;">20</text>
<line x1="44.00" y1="757.90" x2="48.20" y2="757.90" stroke="#000" stroke-width="1.2" />
<text x="41.00" y="761.90" text-anchor="end" fill="#000" style="font-size:11px;font-weight:bold;">21</text>
<line x1="47.60" y1="877.60" x2="219.60" y2="877.60" stroke="#000" stroke-width="1.3" />
<line x1="48.20" y1="877.60" x2="48.20" y2="881.80" stroke="#000" stroke-width="1.1" />
<line x1="54.29" y1="877.60" x2="54.29" y2="880.20" stroke="#000" stroke-width="1.1" />
<line x1="60.38" y1="877.60" x2="60.38" y2="880.20" stroke="#000" stroke-width="1.1" />
<line x1="66.47" y1="877.60" x2="66.47" y2="880.20" stroke="#000" stroke-width="1.1" />
<line x1="72.56" y1="877.60" x2="72.56" y2="880.20" stroke="#000" stroke-width="1.1" />
<line x1="78.65" y1="877.60" x2="78.65" y2="880.20" stroke="#000" stroke-width="1.1" />
<line x1="84.74" y1="877.60" x2="84.74" y2="880.20" stroke="#000" stroke-width="1.1" />
<line x1="90.83" y1="877.60" x2="90.83" y2="881.80" stroke="#000" stroke-width="1.1" />
<line x1="96.92" y1="877.60" x2="96.92" y2="880.20" stroke="#000" stroke-width="1.1" />
<line x1="103.01" y1="877.60" x2="103.01" y2="880.20" stroke="#000" stroke-width="1.1" />
<line x1="109.10" y1="877.60" x2="109.10" y2="880.20" stroke="#000" stroke-width="1.1" />
<line x1="115.19" y1="877.60" x2="115.19" y2="880.20" stroke="#000" stroke-width="1.1" />
<line x1="121.28" y1="877.60" x2="121.28" y2="880.20" stroke="#000" stroke-width="1.1" />
<line x1="127.37" y1="877.60" x2="127.37" y2="880.20" stroke="#000" stroke-width="1.1" />
<line x1="133.46" y1="877.60" x2="133.46" y2="881.80" stroke="#000" stroke-width="1.1" />
<line x1="139.55" y1="877.60" x2="139.55" y2="880.20" stroke="#000" stroke-width="1.1" />
<line x1="145.64" y1="877.60" x2="145.64" y2="880.20" stroke="#000" stroke-width="1.1" />
<line x1="151.73" y1="877.60" x2="151.73" y2="880.20" stroke="#000" stroke-width="1.1" />
<line x1="157.82" y1="877.60" x2="157.82" y2="880.20" stroke="#000" stroke-width="1.1" />
<line x1="163.91" y1="877.60" x2="163.91" y2="880.20" stroke="#000" stroke-width="1.1" />
<line x1="170.00" y1="877.60" x2="170.00" y2="880.20" stroke="#000" stroke-width="1.1" />
<line x1="176.09" y1="877.60" x2="176.09" y2="881.80" stroke="#000" stroke-width="1.1" />
<line x1="182.18" y1="877.60" x2="182.18" y2="880.20" stroke="#000" stroke-width="1.1" />
<line x1="188.27" y1="877.60" x2="188.27" y2="880.20" stroke="#000" stroke-width="1.1" />
<line x1="194.36" y1="877.60" x2="194.36" y2="880.20" stroke="#000" stroke-width="1.1" />
<line x1="200.45" y1="877.60" x2="200.45" y2="880.20" stroke="#000" stroke-width="1.1" />
<line x1="206.54" y1="877.60" x2="206.54" y2="880.20" stroke="#000" stroke-width="1.1" />
<line x1="212.63" y1="877.60" x2="212.63" y2="880.20" stroke="#000" stroke-width="1.1" />
<line x1="218.72" y1="877.60" x2="218.72" y2="881.80" stroke="#000" stroke-width="1.1" />
<text x="48.20" y="892.50" text-anchor="middle" fill="#000" style="font-size:11px;font-weight:bold;">7</text>
<text x="90.83" y="892.50" text-anchor="middle" fill="#000" style="font-size:11px;font-weight:bold;">14</text>
<text x="133.46" y="892.50" text-anchor="middle" fill="#000" style="font-size:11px;font-weight:bold;">21</text>
<text x="176.09" y="892.50" text-anchor="middle" fill="#000" style="font-size:11px;font-weight:bold;">28</text>
<text x="218.72" y="892.50" text-anchor="middle" fill="#000" style="font-size:11px;font-weight:bold;">35</text>
<text x="133.70" y="905.40" text-anchor="middle" fill="#000" style="font-size:10.7px;font-weight:bold;">days from treatment</text>
<text x="20.30" y="816.00" text-anchor="middle" fill="#000" style="font-size:10.4px;font-weight:bold;" transform="rotate(-90 20.30 816.00)">Animal weight (g)</text>
<g stroke="#ff2600" stroke-opacity="0.5" stroke-width="1.1"><line x1="54.29" y1="798.90" x2="54.29" y2="810.90"/><line x1="51.99" y1="798.90" x2="56.59" y2="798.90"/><line x1="51.99" y1="810.90" x2="56.59" y2="810.90"/></g>
<g stroke="#ff2600" stroke-opacity="0.5" stroke-width="1.1"><line x1="60.38" y1="785.90" x2="60.38" y2="801.90"/><line x1="58.08" y1="785.90" x2="62.68" y2="785.90"/><line x1="58.08" y1="801.90" x2="62.68" y2="801.90"/></g>
<g stroke="#ff2600" stroke-opacity="0.5" stroke-width="1.1"><line x1="66.47" y1="792.30" x2="66.47" y2="804.30"/><line x1="64.17" y1="792.30" x2="68.77" y2="792.30"/><line x1="64.17" y1="804.30" x2="68.77" y2="804.30"/></g>
<g stroke="#ff2600" stroke-opacity="0.5" stroke-width="1.1"><line x1="72.56" y1="784.80" x2="72.56" y2="796.80"/><line x1="70.26" y1="784.80" x2="74.86" y2="784.80"/><line x1="70.26" y1="796.80" x2="74.86" y2="796.80"/></g>
<g stroke="#ff2600" stroke-opacity="0.5" stroke-width="1.1"><line x1="78.65" y1="785.30" x2="78.65" y2="797.30"/><line x1="76.35" y1="785.30" x2="80.95" y2="785.30"/><line x1="76.35" y1="797.30" x2="80.95" y2="797.30"/></g>
<g stroke="#ff2600" stroke-opacity="0.5" stroke-width="1.1"><line x1="84.74" y1="781.60" x2="84.74" y2="795.60"/><line x1="82.44" y1="781.60" x2="87.04" y2="781.60"/><line x1="82.44" y1="795.60" x2="87.04" y2="795.60"/></g>
<g stroke="#ff2600" stroke-opacity="0.5" stroke-width="1.1"><line x1="90.83" y1="785.70" x2="90.83" y2="797.70"/><line x1="88.53" y1="785.70" x2="93.13" y2="785.70"/><line x1="88.53" y1="797.70" x2="93.13" y2="797.70"/></g>
<g stroke="#ff2600" stroke-opacity="0.5" stroke-width="1.1"><line x1="96.92" y1="776.20" x2="96.92" y2="790.20"/><line x1="94.62" y1="776.20" x2="99.22" y2="776.20"/><line x1="94.62" y1="790.20" x2="99.22" y2="790.20"/></g>
<g stroke="#ff2600" stroke-opacity="0.5" stroke-width="1.1"><line x1="103.01" y1="784.40" x2="103.01" y2="796.40"/><line x1="100.71" y1="784.40" x2="105.31" y2="784.40"/><line x1="100.71" y1="796.40" x2="105.31" y2="796.40"/></g>
<g stroke="#ff2600" stroke-opacity="0.5" stroke-width="1.1"><line x1="109.10" y1="782.50" x2="109.10" y2="794.50"/><line x1="106.80" y1="782.50" x2="111.40" y2="782.50"/><line x1="106.80" y1="794.50" x2="111.40" y2="794.50"/></g>
<g stroke="#ff2600" stroke-opacity="0.5" stroke-width="1.1"><line x1="115.19" y1="785.50" x2="115.19" y2="797.50"/><line x1="112.89" y1="785.50" x2="117.49" y2="785.50"/><line x1="112.89" y1="797.50" x2="117.49" y2="797.50"/></g>
<g stroke="#ff2600" stroke-opacity="0.5" stroke-width="1.1"><line x1="121.28" y1="776.30" x2="121.28" y2="790.30"/><line x1="118.98" y1="776.30" x2="123.58" y2="776.30"/><line x1="118.98" y1="790.30" x2="123.58" y2="790.30"/></g>
<g stroke="#ff2600" stroke-opacity="0.5" stroke-width="1.1"><line x1="127.37" y1="786.40" x2="127.37" y2="798.40"/><line x1="125.07" y1="786.40" x2="129.67" y2="786.40"/><line x1="125.07" y1="798.40" x2="129.67" y2="798.40"/></g>
<g stroke="#ff2600" stroke-opacity="0.5" stroke-width="1.1"><line x1="133.46" y1="772.00" x2="133.46" y2="784.00"/><line x1="131.16" y1="772.00" x2="135.76" y2="772.00"/><line x1="131.16" y1="784.00" x2="135.76" y2="784.00"/></g>
<g stroke="#ff2600" stroke-opacity="0.5" stroke-width="1.1"><line x1="139.55" y1="773.80" x2="139.55" y2="785.80"/><line x1="137.25" y1="773.80" x2="141.85" y2="773.80"/><line x1="137.25" y1="785.80" x2="141.85" y2="785.80"/></g>
<g stroke="#ff2600" stroke-opacity="0.5" stroke-width="1.1"><line x1="145.64" y1="775.00" x2="145.64" y2="787.00"/><line x1="143.34" y1="775.00" x2="147.94" y2="775.00"/><line x1="143.34" y1="787.00" x2="147.94" y2="787.00"/></g>
<g stroke="#ff2600" stroke-opacity="0.5" stroke-width="1.1"><line x1="157.82" y1="778.50" x2="157.82" y2="790.50"/><line x1="155.52" y1="778.50" x2="160.12" y2="778.50"/><line x1="155.52" y1="790.50" x2="160.12" y2="790.50"/></g>
<g stroke="#ff2600" stroke-opacity="0.5" stroke-width="1.1"><line x1="163.91" y1="781.70" x2="163.91" y2="793.70"/><line x1="161.61" y1="781.70" x2="166.21" y2="781.70"/><line x1="161.61" y1="793.70" x2="166.21" y2="793.70"/></g>
<g stroke="#ff2600" stroke-opacity="0.5" stroke-width="1.1"><line x1="170.00" y1="771.40" x2="170.00" y2="785.40"/><line x1="167.70" y1="771.40" x2="172.30" y2="771.40"/><line x1="167.70" y1="785.40" x2="172.30" y2="785.40"/></g>
<g stroke="#ff2600" stroke-opacity="0.5" stroke-width="1.1"><line x1="176.09" y1="792.40" x2="176.09" y2="806.40"/><line x1="173.79" y1="792.40" x2="178.39" y2="792.40"/><line x1="173.79" y1="806.40" x2="178.39" y2="806.40"/></g>
<g stroke="#ff2600" stroke-opacity="0.5" stroke-width="1.1"><line x1="182.18" y1="787.80" x2="182.18" y2="799.80"/><line x1="179.88" y1="787.80" x2="184.48" y2="787.80"/><line x1="179.88" y1="799.80" x2="184.48" y2="799.80"/></g>
<g stroke="#ff2600" stroke-opacity="0.5" stroke-width="1.1"><line x1="188.27" y1="795.70" x2="188.27" y2="807.70"/><line x1="185.97" y1="795.70" x2="190.57" y2="795.70"/><line x1="185.97" y1="807.70" x2="190.57" y2="807.70"/></g>
<g stroke="#ff2600" stroke-opacity="0.5" stroke-width="1.1"><line x1="194.36" y1="799.40" x2="194.36" y2="813.40"/><line x1="192.06" y1="799.40" x2="196.66" y2="799.40"/><line x1="192.06" y1="813.40" x2="196.66" y2="813.40"/></g>
<g stroke="#ff2600" stroke-opacity="0.5" stroke-width="1.1"><line x1="200.45" y1="806.60" x2="200.45" y2="826.60"/><line x1="198.15" y1="806.60" x2="202.75" y2="806.60"/><line x1="198.15" y1="826.60" x2="202.75" y2="826.60"/></g>
<g stroke="#ff2600" stroke-opacity="0.5" stroke-width="1.1"><line x1="212.63" y1="824.90" x2="212.63" y2="842.90"/><line x1="210.33" y1="824.90" x2="214.93" y2="824.90"/><line x1="210.33" y1="842.90" x2="214.93" y2="842.90"/></g>
<polyline points="48.20,805.70 54.29,804.90 60.38,793.90 66.47,798.30 72.56,790.80 78.65,791.30 84.74,788.60 90.83,791.70 96.92,783.20 103.01,790.40 109.10,788.50 115.19,791.50 121.28,783.30 127.37,792.40 133.46,778.00 139.55,779.80 145.64,781.00 157.82,784.50 163.91,787.70 170.00,778.40 176.09,799.40 182.18,793.80 188.27,801.70 194.36,806.40 200.45,816.60 212.63,833.90" fill="none" stroke="#ff2600" stroke-width="1.2" stroke-linejoin="miter" />
<circle cx="54.29" cy="804.90" r="2.45" fill="#ff2600"/>
<circle cx="60.38" cy="793.90" r="2.45" fill="#ff2600"/>
<circle cx="66.47" cy="798.30" r="2.45" fill="#ff2600"/>
<circle cx="72.56" cy="790.80" r="2.45" fill="#ff2600"/>
<circle cx="78.65" cy="791.30" r="2.45" fill="#ff2600"/>
<circle cx="84.74" cy="788.60" r="2.45" fill="#ff2600"/>
<circle cx="90.83" cy="791.70" r="2.45" fill="#ff2600"/>
<circle cx="96.92" cy="783.20" r="2.45" fill="#ff2600"/>
<circle cx="103.01" cy="790.40" r="2.45" fill="#ff2600"/>
<circle cx="109.10" cy="788.50" r="2.45" fill="#ff2600"/>
<circle cx="115.19" cy="791.50" r="2.45" fill="#ff2600"/>
<circle cx="121.28" cy="783.30" r="2.45" fill="#ff2600"/>
<circle cx="127.37" cy="792.40" r="2.45" fill="#ff2600"/>
<circle cx="133.46" cy="778.00" r="2.45" fill="#ff2600"/>
<circle cx="139.55" cy="779.80" r="2.45" fill="#ff2600"/>
<circle cx="145.64" cy="781.00" r="2.45" fill="#ff2600"/>
<circle cx="157.82" cy="784.50" r="2.45" fill="#ff2600"/>
<circle cx="163.91" cy="787.70" r="2.45" fill="#ff2600"/>
<circle cx="170.00" cy="778.40" r="2.45" fill="#ff2600"/>
<circle cx="176.09" cy="799.40" r="2.45" fill="#ff2600"/>
<circle cx="182.18" cy="793.80" r="2.45" fill="#ff2600"/>
<circle cx="188.27" cy="801.70" r="2.45" fill="#ff2600"/>
<circle cx="194.36" cy="806.40" r="2.45" fill="#ff2600"/>
<circle cx="200.45" cy="816.60" r="2.45" fill="#ff2600"/>
<circle cx="212.63" cy="833.90" r="2.45" fill="#ff2600"/>
<g stroke="#0433ff" stroke-opacity="0.55" stroke-width="1.1"><line x1="54.29" y1="812.10" x2="54.29" y2="822.10"/><line x1="51.99" y1="812.10" x2="56.59" y2="812.10"/><line x1="51.99" y1="822.10" x2="56.59" y2="822.10"/></g>
<g stroke="#0433ff" stroke-opacity="0.55" stroke-width="1.1"><line x1="60.38" y1="801.00" x2="60.38" y2="811.00"/><line x1="58.08" y1="801.00" x2="62.68" y2="801.00"/><line x1="58.08" y1="811.00" x2="62.68" y2="811.00"/></g>
<g stroke="#0433ff" stroke-opacity="0.55" stroke-width="1.1"><line x1="66.47" y1="802.00" x2="66.47" y2="812.00"/><line x1="64.17" y1="802.00" x2="68.77" y2="802.00"/><line x1="64.17" y1="812.00" x2="68.77" y2="812.00"/></g>
<g stroke="#0433ff" stroke-opacity="0.55" stroke-width="1.1"><line x1="72.56" y1="800.50" x2="72.56" y2="810.50"/><line x1="70.26" y1="800.50" x2="74.86" y2="800.50"/><line x1="70.26" y1="810.50" x2="74.86" y2="810.50"/></g>
<g stroke="#0433ff" stroke-opacity="0.55" stroke-width="1.1"><line x1="78.65" y1="796.80" x2="78.65" y2="806.80"/><line x1="76.35" y1="796.80" x2="80.95" y2="796.80"/><line x1="76.35" y1="806.80" x2="80.95" y2="806.80"/></g>
<g stroke="#0433ff" stroke-opacity="0.55" stroke-width="1.1"><line x1="84.74" y1="790.70" x2="84.74" y2="800.70"/><line x1="82.44" y1="790.70" x2="87.04" y2="790.70"/><line x1="82.44" y1="800.70" x2="87.04" y2="800.70"/></g>
<g stroke="#0433ff" stroke-opacity="0.55" stroke-width="1.1"><line x1="90.83" y1="799.90" x2="90.83" y2="809.90"/><line x1="88.53" y1="799.90" x2="93.13" y2="799.90"/><line x1="88.53" y1="809.90" x2="93.13" y2="809.90"/></g>
<g stroke="#0433ff" stroke-opacity="0.55" stroke-width="1.1"><line x1="96.92" y1="797.70" x2="96.92" y2="807.70"/><line x1="94.62" y1="797.70" x2="99.22" y2="797.70"/><line x1="94.62" y1="807.70" x2="99.22" y2="807.70"/></g>
<g stroke="#0433ff" stroke-opacity="0.55" stroke-width="1.1"><line x1="103.01" y1="799.00" x2="103.01" y2="809.00"/><line x1="100.71" y1="799.00" x2="105.31" y2="799.00"/><line x1="100.71" y1="809.00" x2="105.31" y2="809.00"/></g>
<g stroke="#0433ff" stroke-opacity="0.55" stroke-width="1.1"><line x1="109.10" y1="803.90" x2="109.10" y2="813.90"/><line x1="106.80" y1="803.90" x2="111.40" y2="803.90"/><line x1="106.80" y1="813.90" x2="111.40" y2="813.90"/></g>
<g stroke="#0433ff" stroke-opacity="0.55" stroke-width="1.1"><line x1="115.19" y1="797.90" x2="115.19" y2="807.90"/><line x1="112.89" y1="797.90" x2="117.49" y2="797.90"/><line x1="112.89" y1="807.90" x2="117.49" y2="807.90"/></g>
<g stroke="#0433ff" stroke-opacity="0.55" stroke-width="1.1"><line x1="121.28" y1="792.10" x2="121.28" y2="802.10"/><line x1="118.98" y1="792.10" x2="123.58" y2="792.10"/><line x1="118.98" y1="802.10" x2="123.58" y2="802.10"/></g>
<g stroke="#0433ff" stroke-opacity="0.55" stroke-width="1.1"><line x1="133.46" y1="785.90" x2="133.46" y2="799.90"/><line x1="131.16" y1="785.90" x2="135.76" y2="785.90"/><line x1="131.16" y1="799.90" x2="135.76" y2="799.90"/></g>
<g stroke="#0433ff" stroke-opacity="0.55" stroke-width="1.1"><line x1="139.55" y1="792.40" x2="139.55" y2="806.40"/><line x1="137.25" y1="792.40" x2="141.85" y2="792.40"/><line x1="137.25" y1="806.40" x2="141.85" y2="806.40"/></g>
<g stroke="#0433ff" stroke-opacity="0.55" stroke-width="1.1"><line x1="145.64" y1="798.90" x2="145.64" y2="812.90"/><line x1="143.34" y1="798.90" x2="147.94" y2="798.90"/><line x1="143.34" y1="812.90" x2="147.94" y2="812.90"/></g>
<g stroke="#0433ff" stroke-opacity="0.55" stroke-width="1.1"><line x1="157.82" y1="817.20" x2="157.82" y2="827.20"/><line x1="155.52" y1="817.20" x2="160.12" y2="817.20"/><line x1="155.52" y1="827.20" x2="160.12" y2="827.20"/></g>
<g stroke="#0433ff" stroke-opacity="0.55" stroke-width="1.1"><line x1="163.91" y1="830.70" x2="163.91" y2="840.70"/><line x1="161.61" y1="830.70" x2="166.21" y2="830.70"/><line x1="161.61" y1="840.70" x2="166.21" y2="840.70"/></g>
<g stroke="#0433ff" stroke-opacity="0.55" stroke-width="1.1"><line x1="170.00" y1="840.30" x2="170.00" y2="850.30"/><line x1="167.70" y1="840.30" x2="172.30" y2="840.30"/><line x1="167.70" y1="850.30" x2="172.30" y2="850.30"/></g>
<polyline points="48.20,817.40 54.29,817.10 60.38,806.00 66.47,807.00 72.56,805.50 78.65,801.80 84.74,795.70 90.83,804.90 96.92,802.70 103.01,804.00 109.10,808.90 115.19,802.90 121.28,797.10 133.46,792.90 139.55,799.40 145.64,805.90 157.82,822.20 163.91,835.70 170.00,845.30" fill="none" stroke="#0433ff" stroke-width="1.2" stroke-linejoin="miter" />
<circle cx="54.29" cy="817.10" r="2.45" fill="#0433ff"/>
<circle cx="60.38" cy="806.00" r="2.45" fill="#0433ff"/>
<circle cx="66.47" cy="807.00" r="2.45" fill="#0433ff"/>
<circle cx="72.56" cy="805.50" r="2.45" fill="#0433ff"/>
<circle cx="78.65" cy="801.80" r="2.45" fill="#0433ff"/>
<circle cx="84.74" cy="795.70" r="2.45" fill="#0433ff"/>
<circle cx="90.83" cy="804.90" r="2.45" fill="#0433ff"/>
<circle cx="96.92" cy="802.70" r="2.45" fill="#0433ff"/>
<circle cx="103.01" cy="804.00" r="2.45" fill="#0433ff"/>
<circle cx="109.10" cy="808.90" r="2.45" fill="#0433ff"/>
<circle cx="115.19" cy="802.90" r="2.45" fill="#0433ff"/>
<circle cx="121.28" cy="797.10" r="2.45" fill="#0433ff"/>
<circle cx="133.46" cy="792.90" r="2.45" fill="#0433ff"/>
<circle cx="139.55" cy="799.40" r="2.45" fill="#0433ff"/>
<circle cx="145.64" cy="805.90" r="2.45" fill="#0433ff"/>
<circle cx="157.82" cy="822.20" r="2.45" fill="#0433ff"/>
<circle cx="163.91" cy="835.70" r="2.45" fill="#0433ff"/>
<circle cx="170.00" cy="845.30" r="2.45" fill="#0433ff"/>
<g stroke="#ff40ff" stroke-opacity="0.55" stroke-width="1.1"><line x1="54.29" y1="800.00" x2="54.29" y2="812.00"/><line x1="51.99" y1="800.00" x2="56.59" y2="800.00"/><line x1="51.99" y1="812.00" x2="56.59" y2="812.00"/></g>
<g stroke="#ff40ff" stroke-opacity="0.55" stroke-width="1.1"><line x1="60.38" y1="802.50" x2="60.38" y2="814.50"/><line x1="58.08" y1="802.50" x2="62.68" y2="802.50"/><line x1="58.08" y1="814.50" x2="62.68" y2="814.50"/></g>
<g stroke="#ff40ff" stroke-opacity="0.55" stroke-width="1.1"><line x1="66.47" y1="799.30" x2="66.47" y2="811.30"/><line x1="64.17" y1="799.30" x2="68.77" y2="799.30"/><line x1="64.17" y1="811.30" x2="68.77" y2="811.30"/></g>
<g stroke="#ff40ff" stroke-opacity="0.55" stroke-width="1.1"><line x1="72.56" y1="796.20" x2="72.56" y2="808.20"/><line x1="70.26" y1="796.20" x2="74.86" y2="796.20"/><line x1="70.26" y1="808.20" x2="74.86" y2="808.20"/></g>
<g stroke="#ff40ff" stroke-opacity="0.55" stroke-width="1.1"><line x1="78.65" y1="792.70" x2="78.65" y2="804.70"/><line x1="76.35" y1="792.70" x2="80.95" y2="792.70"/><line x1="76.35" y1="804.70" x2="80.95" y2="804.70"/></g>
<g stroke="#ff40ff" stroke-opacity="0.55" stroke-width="1.1"><line x1="84.74" y1="793.00" x2="84.74" y2="807.00"/><line x1="82.44" y1="793.00" x2="87.04" y2="793.00"/><line x1="82.44" y1="807.00" x2="87.04" y2="807.00"/></g>
<g stroke="#ff40ff" stroke-opacity="0.55" stroke-width="1.1"><line x1="90.83" y1="791.80" x2="90.83" y2="803.80"/><line x1="88.53" y1="791.80" x2="93.13" y2="791.80"/><line x1="88.53" y1="803.80" x2="93.13" y2="803.80"/></g>
<g stroke="#ff40ff" stroke-opacity="0.55" stroke-width="1.1"><line x1="96.92" y1="793.60" x2="96.92" y2="805.60"/><line x1="94.62" y1="793.60" x2="99.22" y2="793.60"/><line x1="94.62" y1="805.60" x2="99.22" y2="805.60"/></g>
<g stroke="#ff40ff" stroke-opacity="0.55" stroke-width="1.1"><line x1="103.01" y1="791.80" x2="103.01" y2="803.80"/><line x1="100.71" y1="791.80" x2="105.31" y2="791.80"/><line x1="100.71" y1="803.80" x2="105.31" y2="803.80"/></g>
<g stroke="#ff40ff" stroke-opacity="0.55" stroke-width="1.1"><line x1="109.10" y1="794.10" x2="109.10" y2="806.10"/><line x1="106.80" y1="794.10" x2="111.40" y2="794.10"/><line x1="106.80" y1="806.10" x2="111.40" y2="806.10"/></g>
<g stroke="#ff40ff" stroke-opacity="0.55" stroke-width="1.1"><line x1="115.19" y1="797.00" x2="115.19" y2="809.00"/><line x1="112.89" y1="797.00" x2="117.49" y2="797.00"/><line x1="112.89" y1="809.00" x2="117.49" y2="809.00"/></g>
<g stroke="#ff40ff" stroke-opacity="0.55" stroke-width="1.1"><line x1="121.28" y1="800.20" x2="121.28" y2="816.20"/><line x1="118.98" y1="800.20" x2="123.58" y2="800.20"/><line x1="118.98" y1="816.20" x2="123.58" y2="816.20"/></g>
<g stroke="#ff40ff" stroke-opacity="0.55" stroke-width="1.1"><line x1="127.37" y1="805.00" x2="127.37" y2="823.00"/><line x1="125.07" y1="805.00" x2="129.67" y2="805.00"/><line x1="125.07" y1="823.00" x2="129.67" y2="823.00"/></g>
<g stroke="#ff40ff" stroke-opacity="0.55" stroke-width="1.1"><line x1="133.46" y1="810.00" x2="133.46" y2="828.00"/><line x1="131.16" y1="810.00" x2="135.76" y2="810.00"/><line x1="131.16" y1="828.00" x2="135.76" y2="828.00"/></g>
<g stroke="#ff40ff" stroke-opacity="0.55" stroke-width="1.1"><line x1="139.55" y1="810.60" x2="139.55" y2="828.60"/><line x1="137.25" y1="810.60" x2="141.85" y2="810.60"/><line x1="137.25" y1="828.60" x2="141.85" y2="828.60"/></g>
<g stroke="#ff40ff" stroke-opacity="0.55" stroke-width="1.1"><line x1="145.64" y1="826.30" x2="145.64" y2="844.30"/><line x1="143.34" y1="826.30" x2="147.94" y2="826.30"/><line x1="143.34" y1="844.30" x2="147.94" y2="844.30"/></g>
<polyline points="48.20,807.00 54.29,806.00 60.38,808.50 66.47,805.30 72.56,802.20 78.65,798.70 84.74,800.00 90.83,797.80 96.92,799.60 103.01,797.80 109.10,800.10 115.19,803.00 121.28,808.20 127.37,814.00 133.46,819.00 139.55,819.60 145.64,835.30" fill="none" stroke="#ff40ff" stroke-width="1.2" stroke-linejoin="miter" />
<circle cx="54.29" cy="806.00" r="2.45" fill="#ff40ff"/>
<circle cx="60.38" cy="808.50" r="2.45" fill="#ff40ff"/>
<circle cx="66.47" cy="805.30" r="2.45" fill="#ff40ff"/>
<circle cx="72.56" cy="802.20" r="2.45" fill="#ff40ff"/>
<circle cx="78.65" cy="798.70" r="2.45" fill="#ff40ff"/>
<circle cx="84.74" cy="800.00" r="2.45" fill="#ff40ff"/>
<circle cx="90.83" cy="797.80" r="2.45" fill="#ff40ff"/>
<circle cx="96.92" cy="799.60" r="2.45" fill="#ff40ff"/>
<circle cx="103.01" cy="797.80" r="2.45" fill="#ff40ff"/>
<circle cx="109.10" cy="800.10" r="2.45" fill="#ff40ff"/>
<circle cx="115.19" cy="803.00" r="2.45" fill="#ff40ff"/>
<circle cx="121.28" cy="808.20" r="2.45" fill="#ff40ff"/>
<circle cx="127.37" cy="814.00" r="2.45" fill="#ff40ff"/>
<circle cx="133.46" cy="819.00" r="2.45" fill="#ff40ff"/>
<circle cx="139.55" cy="819.60" r="2.45" fill="#ff40ff"/>
<circle cx="145.64" cy="835.30" r="2.45" fill="#ff40ff"/>
<g stroke="#000" stroke-opacity="0.45" stroke-width="1.1"><line x1="54.29" y1="783.40" x2="54.29" y2="804.40"/><line x1="51.99" y1="783.40" x2="56.59" y2="783.40"/><line x1="51.99" y1="804.40" x2="56.59" y2="804.40"/></g>
<g stroke="#000" stroke-opacity="0.45" stroke-width="1.1"><line x1="60.38" y1="781.50" x2="60.38" y2="801.50"/><line x1="58.08" y1="781.50" x2="62.68" y2="781.50"/><line x1="58.08" y1="801.50" x2="62.68" y2="801.50"/></g>
<g stroke="#000" stroke-opacity="0.45" stroke-width="1.1"><line x1="66.47" y1="775.40" x2="66.47" y2="795.40"/><line x1="64.17" y1="775.40" x2="68.77" y2="775.40"/><line x1="64.17" y1="795.40" x2="68.77" y2="795.40"/></g>
<g stroke="#000" stroke-opacity="0.45" stroke-width="1.1"><line x1="72.56" y1="773.80" x2="72.56" y2="793.80"/><line x1="70.26" y1="773.80" x2="74.86" y2="773.80"/><line x1="70.26" y1="793.80" x2="74.86" y2="793.80"/></g>
<g stroke="#000" stroke-opacity="0.45" stroke-width="1.1"><line x1="78.65" y1="775.50" x2="78.65" y2="794.70"/><line x1="76.35" y1="775.50" x2="80.95" y2="775.50"/><line x1="76.35" y1="794.70" x2="80.95" y2="794.70"/></g>
<g stroke="#000" stroke-opacity="0.45" stroke-width="1.1"><line x1="84.74" y1="775.80" x2="84.74" y2="795.80"/><line x1="82.44" y1="775.80" x2="87.04" y2="775.80"/><line x1="82.44" y1="795.80" x2="87.04" y2="795.80"/></g>
<g stroke="#000" stroke-opacity="0.45" stroke-width="1.1"><line x1="90.83" y1="776.30" x2="90.83" y2="796.30"/><line x1="88.53" y1="776.30" x2="93.13" y2="776.30"/><line x1="88.53" y1="796.30" x2="93.13" y2="796.30"/></g>
<g stroke="#000" stroke-opacity="0.45" stroke-width="1.1"><line x1="96.92" y1="770.20" x2="96.92" y2="788.20"/><line x1="94.62" y1="770.20" x2="99.22" y2="770.20"/><line x1="94.62" y1="788.20" x2="99.22" y2="788.20"/></g>
<g stroke="#000" stroke-opacity="0.45" stroke-width="1.1"><line x1="103.01" y1="776.80" x2="103.01" y2="795.80"/><line x1="100.71" y1="776.80" x2="105.31" y2="776.80"/><line x1="100.71" y1="795.80" x2="105.31" y2="795.80"/></g>
<g stroke="#000" stroke-opacity="0.45" stroke-width="1.1"><line x1="109.10" y1="782.70" x2="109.10" y2="800.70"/><line x1="106.80" y1="782.70" x2="111.40" y2="782.70"/><line x1="106.80" y1="800.70" x2="111.40" y2="800.70"/></g>
<g stroke="#000" stroke-opacity="0.45" stroke-width="1.1"><line x1="115.19" y1="790.40" x2="115.19" y2="808.40"/><line x1="112.89" y1="790.40" x2="117.49" y2="790.40"/><line x1="112.89" y1="808.40" x2="117.49" y2="808.40"/></g>
<g stroke="#000" stroke-opacity="0.45" stroke-width="1.1"><line x1="121.28" y1="812.00" x2="121.28" y2="830.00"/><line x1="118.98" y1="812.00" x2="123.58" y2="812.00"/><line x1="118.98" y1="830.00" x2="123.58" y2="830.00"/></g>
<polyline points="48.20,795.70 54.29,793.90 60.38,791.50 66.47,785.40 72.56,783.80 78.65,785.10 84.74,785.80 90.83,786.30 96.92,779.20 103.01,786.30 109.10,791.70 115.19,799.40 121.28,821.00" fill="none" stroke="#000" stroke-width="1.2" stroke-linejoin="miter" />
<circle cx="54.29" cy="793.90" r="2.45" fill="#000"/>
<circle cx="60.38" cy="791.50" r="2.45" fill="#000"/>
<circle cx="66.47" cy="785.40" r="2.45" fill="#000"/>
<circle cx="72.56" cy="783.80" r="2.45" fill="#000"/>
<circle cx="78.65" cy="785.10" r="2.45" fill="#000"/>
<circle cx="84.74" cy="785.80" r="2.45" fill="#000"/>
<circle cx="90.83" cy="786.30" r="2.45" fill="#000"/>
<circle cx="96.92" cy="779.20" r="2.45" fill="#000"/>
<circle cx="103.01" cy="786.30" r="2.45" fill="#000"/>
<circle cx="109.10" cy="791.70" r="2.45" fill="#000"/>
<circle cx="115.19" cy="799.40" r="2.45" fill="#000"/>
<circle cx="121.28" cy="821.00" r="2.45" fill="#000"/>
<line x1="48.20" y1="757.20" x2="48.20" y2="878.20" stroke="#000" stroke-width="1.3" />
<text x="277.60" y="646.40" text-anchor="start" fill="#000" style="font-size:17px;font-weight:bold;">i.</text>
<line x1="341.30" y1="653.40" x2="341.30" y2="762.20" stroke="#000" stroke-width="1.3" />
<line x1="340.70" y1="761.60" x2="535.60" y2="761.60" stroke="#000" stroke-width="1.3" />
<line x1="336.00" y1="761.60" x2="341.30" y2="761.60" stroke="#000" stroke-width="1.2" />
<text x="334.20" y="765.50" text-anchor="end" fill="#000" style="font-size:11px;font-weight:bold;">0</text>
<line x1="336.00" y1="737.02" x2="341.30" y2="737.02" stroke="#000" stroke-width="1.2" />
<text x="334.20" y="740.92" text-anchor="end" fill="#000" style="font-size:11px;font-weight:bold;">25</text>
<line x1="336.00" y1="712.45" x2="341.30" y2="712.45" stroke="#000" stroke-width="1.2" />
<text x="334.20" y="716.35" text-anchor="end" fill="#000" style="font-size:11px;font-weight:bold;">50</text>
<line x1="336.00" y1="687.88" x2="341.30" y2="687.88" stroke="#000" stroke-width="1.2" />
<text x="334.20" y="691.77" text-anchor="end" fill="#000" style="font-size:11px;font-weight:bold;">75</text>
<line x1="336.00" y1="663.30" x2="341.30" y2="663.30" stroke="#000" stroke-width="1.2" />
<text x="334.20" y="667.20" text-anchor="end" fill="#000" style="font-size:11px;font-weight:bold;">100</text>
<line x1="341.30" y1="761.60" x2="341.30" y2="764.80" stroke="#000" stroke-width="1.1" />
<line x1="364.54" y1="761.60" x2="364.54" y2="764.80" stroke="#000" stroke-width="1.1" />
<line x1="387.78" y1="761.60" x2="387.78" y2="764.80" stroke="#000" stroke-width="1.1" />
<line x1="411.02" y1="761.60" x2="411.02" y2="764.80" stroke="#000" stroke-width="1.1" />
<line x1="434.26" y1="761.60" x2="434.26" y2="764.80" stroke="#000" stroke-width="1.1" />
<line x1="457.50" y1="761.60" x2="457.50" y2="764.80" stroke="#000" stroke-width="1.1" />
<line x1="480.74" y1="761.60" x2="480.74" y2="764.80" stroke="#000" stroke-width="1.1" />
<line x1="503.98" y1="761.60" x2="503.98" y2="764.80" stroke="#000" stroke-width="1.1" />
<line x1="527.22" y1="761.60" x2="527.22" y2="764.80" stroke="#000" stroke-width="1.1" />
<text x="341.30" y="780.00" text-anchor="middle" fill="#000" style="font-size:10.6px;font-weight:bold;">0</text>
<text x="387.78" y="780.00" text-anchor="middle" fill="#000" style="font-size:10.6px;font-weight:bold;">10</text>
<text x="434.26" y="780.00" text-anchor="middle" fill="#000" style="font-size:10.6px;font-weight:bold;">20</text>
<text x="480.74" y="780.00" text-anchor="middle" fill="#000" style="font-size:10.6px;font-weight:bold;">30</text>
<text x="527.22" y="780.00" text-anchor="middle" fill="#000" style="font-size:10.6px;font-weight:bold;">40</text>
<text x="438.70" y="796.00" text-anchor="middle" fill="#000" style="font-size:11.0px;font-weight:bold;">days after cell injection</text>
<text x="293.60" y="706.80" text-anchor="middle" fill="#000" style="font-size:11.7px;font-weight:bold;" transform="rotate(-90 293.60 706.80)">Survival</text>
<text x="307.00" y="706.20" text-anchor="middle" fill="#000" style="font-size:11.7px;font-weight:bold;" transform="rotate(-90 307.00 706.20)">probability (%)</text>
<polyline points="341.30,663.30 499.33,663.30 499.33,682.96 508.63,682.96 508.63,692.79 513.28,692.79 513.28,702.62 522.57,702.62 522.57,732.11 527.22,732.11 527.22,761.60" fill="none" stroke="#ff2600" stroke-width="1.5" stroke-linejoin="miter" />
<polyline points="341.30,663.30 466.80,663.30 466.80,682.96 476.09,682.96 476.09,722.28 480.74,722.28 480.74,741.94 485.39,741.94 485.39,761.60" fill="none" stroke="#0433ff" stroke-width="1.5" stroke-linejoin="miter" />
<polyline points="341.30,663.30 434.26,663.30 434.26,673.13 438.91,673.13 438.91,692.79 443.56,692.79 443.56,702.62 448.20,702.62 448.20,761.60" fill="none" stroke="#ff40ff" stroke-width="1.5" stroke-linejoin="miter" />
<polyline points="341.30,663.30 424.96,663.30 424.96,673.13 429.61,673.13 429.61,712.45 434.26,712.45 434.26,732.11 438.91,732.11 438.91,751.77 443.56,751.77 443.56,761.60" fill="none" stroke="#000" stroke-width="1.5" stroke-linejoin="miter" />
<line x1="539.50" y1="665.80" x2="552.00" y2="665.80" stroke="#000" stroke-width="1.3" />
<text x="558.20" y="669.50" text-anchor="start" fill="#000" style="font-size:10.4px;font-weight:normal;">Vehicle</text>
<line x1="539.50" y1="683.30" x2="552.00" y2="683.30" stroke="#ff40ff" stroke-width="1.3" />
<text x="558.20" y="687.00" text-anchor="start" fill="#000" style="font-size:10.4px;font-weight:normal;">Olaparib</text>
<line x1="539.50" y1="699.80" x2="552.00" y2="699.80" stroke="#0433ff" stroke-width="1.3" />
<text x="558.20" y="703.50" text-anchor="start" fill="#000" style="font-size:10.4px;font-weight:normal;">ASNase</text>
<line x1="539.50" y1="716.80" x2="552.00" y2="716.80" stroke="#ff2600" stroke-width="1.3" />
<text x="558.20" y="720.50" text-anchor="start" fill="#000" style="font-size:10.4px;font-weight:normal;">ASNase + Olaparib</text>
<polyline points="604.20,665.40 612.60,665.40 612.60,684.40 604.20,684.40" fill="none" stroke="#000" stroke-width="1.2" stroke-linejoin="miter" />
<text x="618.50" y="677.34" text-anchor="start" fill="#000" style="font-size:8px;font-weight:normal;">***</text>
<polyline points="634.10,665.40 642.50,665.40 642.50,699.80 634.10,699.80" fill="none" stroke="#000" stroke-width="1.2" stroke-linejoin="miter" />
<text x="649.10" y="685.24" text-anchor="start" fill="#000" style="font-size:8px;font-weight:normal;">****</text>
<polyline points="654.00,700.20 661.30,700.20 661.30,718.30 654.00,718.30" fill="none" stroke="#000" stroke-width="1.2" stroke-linejoin="miter" />
<text x="667.80" y="712.84" text-anchor="start" fill="#000" style="font-size:8px;font-weight:normal;">****</text>
</svg></body></html>
